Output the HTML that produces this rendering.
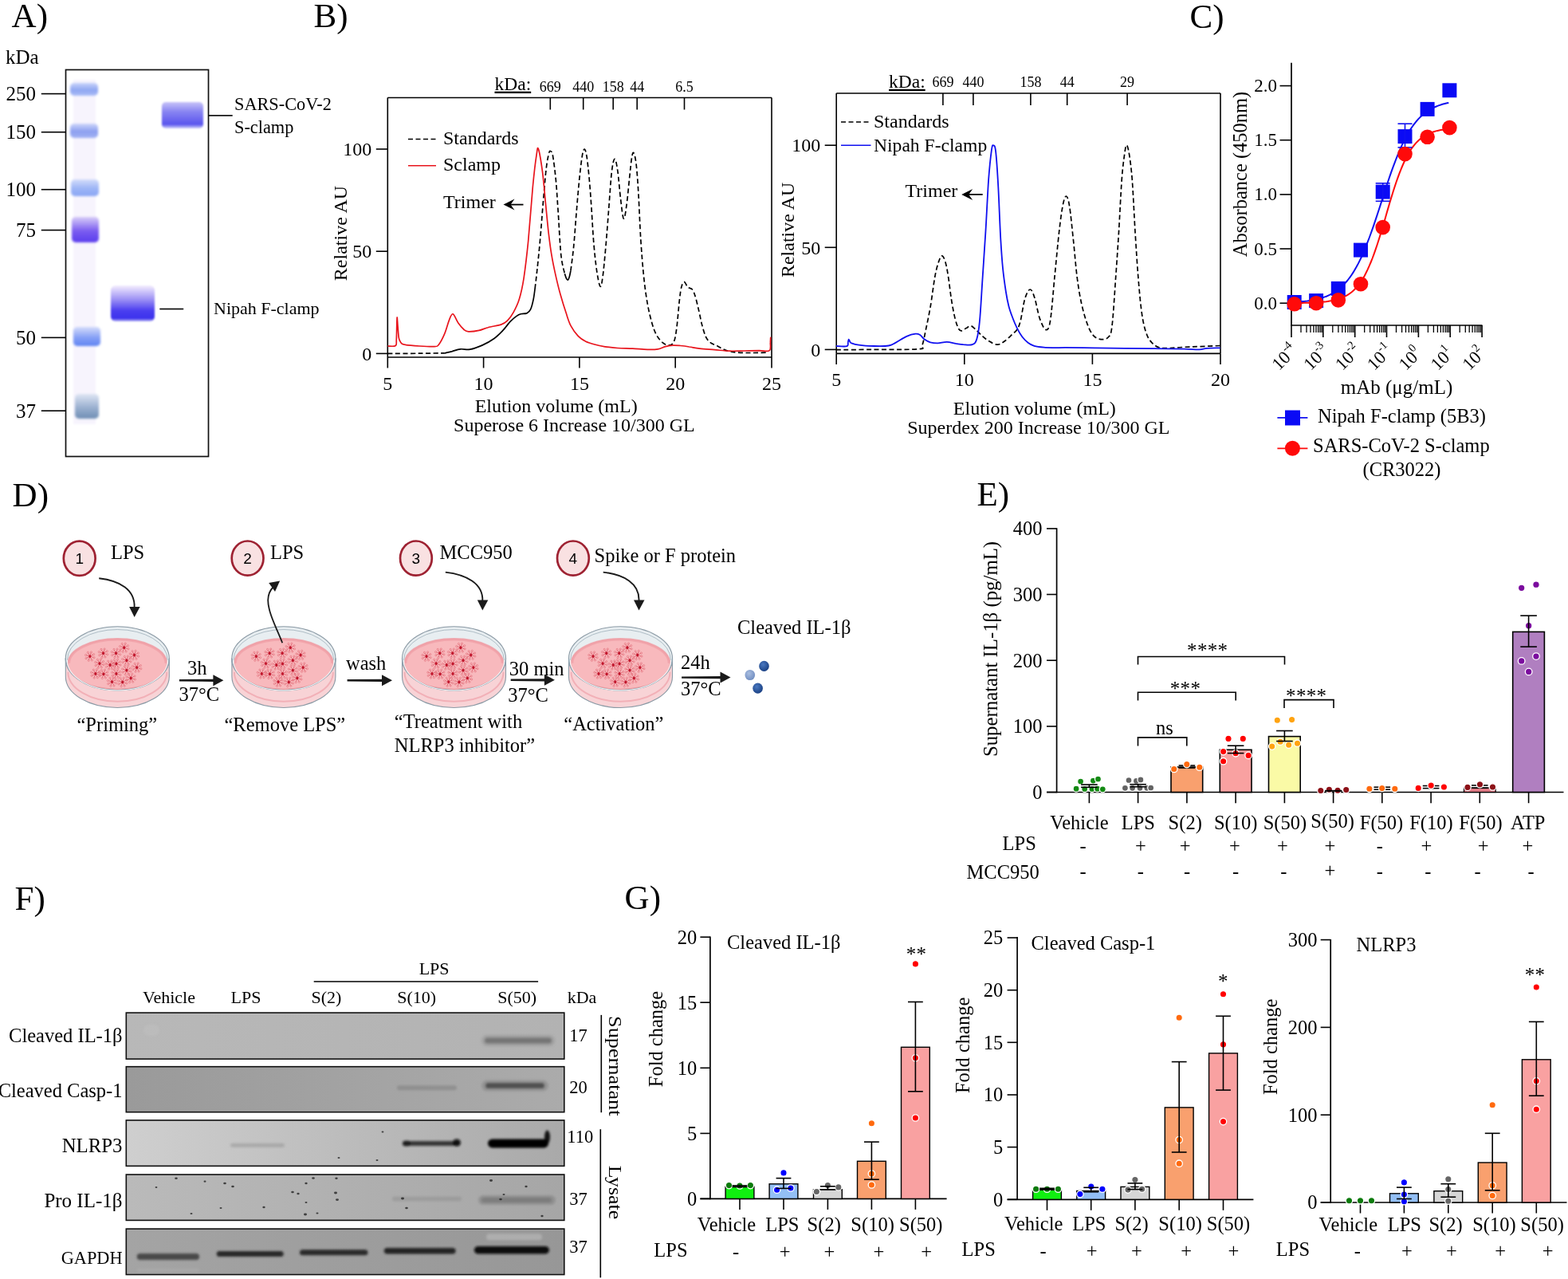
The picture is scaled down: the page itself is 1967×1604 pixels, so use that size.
<!DOCTYPE html>
<html><head><meta charset="utf-8"><title>Figure</title>
<style>html,body{margin:0;padding:0;background:#fff;} svg{display:block;}</style>
</head><body>
<svg width="1967" height="1604" viewBox="0 0 1967 1604">
<defs>
<filter id="blur1" x="-20%" y="-20%" width="140%" height="140%"><feGaussianBlur stdDeviation="1"/></filter>
<filter id="blur2" x="-20%" y="-20%" width="140%" height="140%"><feGaussianBlur stdDeviation="1.6"/></filter>
<filter id="blur3" x="-30%" y="-60%" width="160%" height="220%"><feGaussianBlur stdDeviation="2.5"/></filter>
<linearGradient id="gS" x1="0" y1="0" x2="0" y2="1">
<stop offset="0" stop-color="#c8c4f8"/><stop offset="0.35" stop-color="#8a86f2"/><stop offset="0.85" stop-color="#5a54ee"/><stop offset="1" stop-color="#cfd0fa"/></linearGradient>
<linearGradient id="gN" x1="0" y1="0" x2="0" y2="1">
<stop offset="0" stop-color="#f4eefe"/><stop offset="0.4" stop-color="#9a8ef4"/><stop offset="0.7" stop-color="#4a3ef0"/><stop offset="0.92" stop-color="#3c32ec"/><stop offset="1" stop-color="#b8b4f6"/></linearGradient>
</defs>
<rect x="0" y="0" width="1967" height="1604" fill="#fff" stroke="none" stroke-width="1" />
<text x="14.6" y="34" font-size="43" text-anchor="start" fill="#000" font-family="'Liberation Serif','Times New Roman',serif" >A)</text>
<text x="7" y="80" font-size="25" text-anchor="start" fill="#000" font-family="'Liberation Serif','Times New Roman',serif" >kDa</text>
<g filter="url(#blur1)">
<rect x="92" y="100" width="28" height="432" fill="#f4f0fc" stroke="none" stroke-width="1" opacity="0.7"/>
</g>
<g filter="url(#blur2)">
<linearGradient id="lb0" x1="0" y1="0" x2="0" y2="1"><stop offset="0" stop-color="#c9d4fa"/><stop offset="0.55" stop-color="#8fa6f2"/><stop offset="1" stop-color="#a9bcf6"/></linearGradient>
<rect x="88" y="104" width="35" height="16" fill="url(#lb0)" stroke="none" stroke-width="1" rx="5"/>
<linearGradient id="lb1" x1="0" y1="0" x2="0" y2="1"><stop offset="0" stop-color="#cdd6fa"/><stop offset="0.55" stop-color="#8c9ff0"/><stop offset="1" stop-color="#a2b2f4"/></linearGradient>
<rect x="88" y="155" width="35" height="18" fill="url(#lb1)" stroke="none" stroke-width="1" rx="5"/>
<linearGradient id="lb2" x1="0" y1="0" x2="0" y2="1"><stop offset="0" stop-color="#d2dcfa"/><stop offset="0.55" stop-color="#9cb4f6"/><stop offset="1" stop-color="#8aa6f4"/></linearGradient>
<rect x="89" y="225" width="35" height="21" fill="url(#lb2)" stroke="none" stroke-width="1" rx="5"/>
<linearGradient id="lb3" x1="0" y1="0" x2="0" y2="1"><stop offset="0" stop-color="#d8cdf8"/><stop offset="0.55" stop-color="#7a5cf0"/><stop offset="1" stop-color="#5a3cee"/></linearGradient>
<rect x="90" y="272" width="34" height="32" fill="url(#lb3)" stroke="none" stroke-width="1" rx="5"/>
<linearGradient id="lb4" x1="0" y1="0" x2="0" y2="1"><stop offset="0" stop-color="#d4dcfa"/><stop offset="0.55" stop-color="#86a0f6"/><stop offset="1" stop-color="#5f84f2"/></linearGradient>
<rect x="92" y="410" width="34" height="24" fill="url(#lb4)" stroke="none" stroke-width="1" rx="5"/>
<linearGradient id="lb5" x1="0" y1="0" x2="0" y2="1"><stop offset="0" stop-color="#dfe6f4"/><stop offset="0.55" stop-color="#9ab0d0"/><stop offset="1" stop-color="#6f8eb4"/></linearGradient>
<rect x="94" y="494" width="30" height="31" fill="url(#lb5)" stroke="none" stroke-width="1" rx="5"/>
</g>
<g filter="url(#blur1)">
<rect x="203" y="128" width="52" height="33" fill="url(#gS)" stroke="none" stroke-width="1" rx="5"/>
<rect x="139" y="358" width="55" height="45" fill="url(#gN)" stroke="none" stroke-width="1" rx="6"/>
</g>
<rect x="82.5" y="87.5" width="179" height="485" fill="none" stroke="#111" stroke-width="1.7" />
<line x1="51.8" y1="117.6" x2="82.5" y2="117.6" stroke="#000" stroke-width="1.6" />
<text x="45" y="125.9" font-size="25" text-anchor="end" fill="#000" font-family="'Liberation Serif','Times New Roman',serif" >250</text>
<line x1="51.8" y1="165.7" x2="82.5" y2="165.7" stroke="#000" stroke-width="1.6" />
<text x="45" y="174" font-size="25" text-anchor="end" fill="#000" font-family="'Liberation Serif','Times New Roman',serif" >150</text>
<line x1="51.8" y1="237.7" x2="82.5" y2="237.7" stroke="#000" stroke-width="1.6" />
<text x="45" y="246" font-size="25" text-anchor="end" fill="#000" font-family="'Liberation Serif','Times New Roman',serif" >100</text>
<line x1="51.8" y1="288.6" x2="82.5" y2="288.6" stroke="#000" stroke-width="1.6" />
<text x="45" y="296.9" font-size="25" text-anchor="end" fill="#000" font-family="'Liberation Serif','Times New Roman',serif" >75</text>
<line x1="51.8" y1="423.4" x2="82.5" y2="423.4" stroke="#000" stroke-width="1.6" />
<text x="45" y="431.7" font-size="25" text-anchor="end" fill="#000" font-family="'Liberation Serif','Times New Roman',serif" >50</text>
<line x1="51.8" y1="515.2" x2="82.5" y2="515.2" stroke="#000" stroke-width="1.6" />
<text x="45" y="523.5" font-size="25" text-anchor="end" fill="#000" font-family="'Liberation Serif','Times New Roman',serif" >37</text>
<line x1="261.5" y1="144.9" x2="291.7" y2="144.9" stroke="#000" stroke-width="1.6" />
<text x="294" y="138" font-size="22.3" text-anchor="start" fill="#000" font-family="'Liberation Serif','Times New Roman',serif" >SARS-CoV-2</text>
<text x="294" y="167.3" font-size="22.3" text-anchor="start" fill="#000" font-family="'Liberation Serif','Times New Roman',serif" >S-clamp</text>
<line x1="200.3" y1="387.5" x2="230.2" y2="387.5" stroke="#000" stroke-width="1.6" />
<text x="268" y="394.3" font-size="22" text-anchor="start" fill="#000" font-family="'Liberation Serif','Times New Roman',serif" >Nipah F-clamp</text>
<text x="393.6" y="34" font-size="43" text-anchor="start" fill="#000" font-family="'Liberation Serif','Times New Roman',serif" >B)</text>
<line x1="486.3" y1="122.5" x2="968" y2="122.5" stroke="#000" stroke-width="1.6" />
<line x1="486.3" y1="448" x2="968" y2="448" stroke="#000" stroke-width="1.6" />
<line x1="486.3" y1="122.5" x2="486.3" y2="448" stroke="#000" stroke-width="1.6" />
<line x1="968" y1="122.5" x2="968" y2="448" stroke="#000" stroke-width="1.6" />
<line x1="471.8" y1="443.4" x2="486.3" y2="443.4" stroke="#000" stroke-width="1.6" />
<text x="466.3" y="451.6" font-size="24" text-anchor="end" fill="#000" font-family="'Liberation Serif','Times New Roman',serif" >0</text>
<line x1="471.8" y1="315.2" x2="486.3" y2="315.2" stroke="#000" stroke-width="1.6" />
<text x="466.3" y="323.4" font-size="24" text-anchor="end" fill="#000" font-family="'Liberation Serif','Times New Roman',serif" >50</text>
<line x1="471.8" y1="187" x2="486.3" y2="187" stroke="#000" stroke-width="1.6" />
<text x="466.3" y="195.2" font-size="24" text-anchor="end" fill="#000" font-family="'Liberation Serif','Times New Roman',serif" >100</text>
<line x1="486.3" y1="448" x2="486.3" y2="461.5" stroke="#000" stroke-width="1.6" />
<text x="486.3" y="489" font-size="24" text-anchor="middle" fill="#000" font-family="'Liberation Serif','Times New Roman',serif" >5</text>
<line x1="606.6" y1="448" x2="606.6" y2="461.5" stroke="#000" stroke-width="1.6" />
<text x="606.6" y="489" font-size="24" text-anchor="middle" fill="#000" font-family="'Liberation Serif','Times New Roman',serif" >10</text>
<line x1="726.9" y1="448" x2="726.9" y2="461.5" stroke="#000" stroke-width="1.6" />
<text x="726.9" y="489" font-size="24" text-anchor="middle" fill="#000" font-family="'Liberation Serif','Times New Roman',serif" >15</text>
<line x1="847.2" y1="448" x2="847.2" y2="461.5" stroke="#000" stroke-width="1.6" />
<text x="847.2" y="489" font-size="24" text-anchor="middle" fill="#000" font-family="'Liberation Serif','Times New Roman',serif" >20</text>
<line x1="968" y1="448" x2="968" y2="461.5" stroke="#000" stroke-width="1.6" />
<text x="968" y="489" font-size="24" text-anchor="middle" fill="#000" font-family="'Liberation Serif','Times New Roman',serif" >25</text>
<line x1="690.3" y1="122.5" x2="690.3" y2="137.5" stroke="#000" stroke-width="1.6" />
<text x="690.3" y="115.4" font-size="18" text-anchor="middle" fill="#000" font-family="'Liberation Serif','Times New Roman',serif" >669</text>
<line x1="731.7" y1="122.5" x2="731.7" y2="137.5" stroke="#000" stroke-width="1.6" />
<text x="731.7" y="115.4" font-size="18" text-anchor="middle" fill="#000" font-family="'Liberation Serif','Times New Roman',serif" >440</text>
<line x1="769.2" y1="122.5" x2="769.2" y2="137.5" stroke="#000" stroke-width="1.6" />
<text x="769.2" y="115.4" font-size="18" text-anchor="middle" fill="#000" font-family="'Liberation Serif','Times New Roman',serif" >158</text>
<line x1="799.2" y1="122.5" x2="799.2" y2="137.5" stroke="#000" stroke-width="1.6" />
<text x="799.2" y="115.4" font-size="18" text-anchor="middle" fill="#000" font-family="'Liberation Serif','Times New Roman',serif" >44</text>
<line x1="858.5" y1="122.5" x2="858.5" y2="137.5" stroke="#000" stroke-width="1.6" />
<text x="858.5" y="115.4" font-size="18" text-anchor="middle" fill="#000" font-family="'Liberation Serif','Times New Roman',serif" >6.5</text>
<text x="620.5" y="112.7" font-size="23.5" text-anchor="start" fill="#000" font-family="'Liberation Serif','Times New Roman',serif" text-decoration="underline">kDa:</text>
<text transform="translate(434.5,292.5) rotate(-90)" font-size="24" text-anchor="middle" font-family="'Liberation Serif','Times New Roman',serif">Relative AU</text>
<text x="697.7" y="516.7" font-size="24" text-anchor="middle" fill="#000" font-family="'Liberation Serif','Times New Roman',serif" >Elution volume (mL)</text>
<text x="720.4" y="541.2" font-size="24" text-anchor="middle" fill="#000" font-family="'Liberation Serif','Times New Roman',serif" >Superose 6 Increase 10/300 GL</text>
<path d="M486.5,443.4 C493.1,443.4 514.2,443.3 526.1,443.2 C538,443.1 552.6,442.9 557.9,442.8" stroke="#000" stroke-width="1.7" fill="none" stroke-dasharray="6,3.5"/>
<path d="M557.9,442.8 C559.5,442.5 564,441.4 567.3,440.6 C570.5,439.7 573.8,438.2 577.6,437.8 C581.3,437.4 585.2,438.9 589.7,438.2 C594.2,437.4 599.7,435.3 604.7,433.1 C609.7,430.9 615.3,427.8 619.6,424.7 C624,421.6 627.4,418 630.9,414.4 C634.3,410.8 637.4,406.1 640.2,403.2 C643,400.2 645.5,398.2 647.7,396.6 C649.9,395.1 651.1,394.4 653.3,393.8 C655.5,393.2 658.8,393.8 660.8,392.9 C662.8,391.9 664.1,391.2 665.5,388.2 C666.9,385.2 668.3,379.5 669.2,375.1 C670.1,370.7 670.8,364.2 671.1,362" stroke="#000" stroke-width="1.7" fill="none" />
<path d="M671.1,362 C671.6,358 672.8,348 673.9,337.7 C675,327.4 676.4,314.3 677.6,300.3 C678.9,286.3 680.1,268.2 681.4,253.5 C682.6,238.9 683.9,222.5 685.1,212.4 C686.3,202.2 687.5,196.5 688.5,192.7 C689.4,188.9 689.9,189.1 690.7,189.6 C691.6,190 692.4,189.6 693.5,195.5 C694.6,201.5 696.2,214.2 697.3,225.5 C698.4,236.7 698.9,247.3 700,262.9 C701.1,278.5 702.3,305.6 703.7,319 C705.1,332.4 707.6,339.3 708.4,343.3" stroke="#000" stroke-width="1.7" fill="none" stroke-dasharray="6,3.5"/>
<path d="M708.4,343.3 C708.7,344.2 709.7,347.6 710.3,348.9 C710.9,350.2 711.5,351.3 712.2,351.2 C712.8,351 713.4,349.9 714,348 C714.7,346.1 715.6,341 715.9,339.6" stroke="#000" stroke-width="1.7" fill="none" />
<path d="M715.9,339.6 C716.5,334.6 718.4,322.4 719.6,309.6 C720.9,296.9 722.1,277.5 723.4,262.9 C724.6,248.2 725.9,233.1 727.1,221.7 C728.3,210.3 729.5,200.4 730.5,194.6 C731.5,188.8 732.4,186.8 733.3,187.1 C734.2,187.4 735.1,190.1 736.1,196.5 C737.1,202.9 738.3,214.4 739.3,225.5 C740.3,236.5 741.2,249.5 742.1,262.9 C743,276.3 743.8,293.1 744.9,305.9 C746,318.7 747.3,330.7 748.6,339.6 C750,348.5 751.7,358 752.9,359.2 C754.2,360.5 755,355.3 756.1,347.1 C757.3,338.8 758.6,323.7 759.9,309.6 C761.1,295.6 762.4,278.5 763.6,262.9 C764.8,247.3 766.1,226.7 767.3,216.1 C768.6,205.5 769.8,199.6 771.1,199.3 C772.3,199 773.6,205.8 774.8,214.2 C776.1,222.7 777.3,239.8 778.6,249.8 C779.8,259.8 781.1,272.9 782.3,274.1 C783.6,275.4 784.8,266 786,257.3 C787.3,248.5 788.7,231.7 789.8,221.7 C790.9,211.8 791.7,202.4 792.6,197.4 C793.5,192.4 794.1,190.2 795,191.8 C796,193.4 797.2,198 798.2,206.8 C799.2,215.5 800.1,228.6 801,244.2 C801.9,259.8 802.7,283.1 803.8,300.3 C804.9,317.4 806.2,333.7 807.6,347.1 C809,360.5 810.5,371.1 812.2,380.7 C813.9,390.4 816,398.5 817.8,405 C819.7,411.6 821.3,416 823.5,420 C825.6,424.1 828.4,427.2 830.9,429.4 C833.4,431.5 836.1,433.1 838.4,433.1 C840.8,433.1 843.3,432.8 845,429.4 C846.7,425.9 847.5,421.6 848.7,412.5 C850,403.5 851.4,384.2 852.5,375.1 C853.5,366.1 854.2,361.9 855.3,358.3 C856.3,354.7 857.4,353.3 858.6,353.6 C859.9,353.9 861.1,358.6 862.7,360.1 C864.4,361.7 866.8,361.1 868.4,363 C869.9,364.8 870.7,366.9 872.1,371.4 C873.5,375.9 875.4,384.2 876.8,390.1 C878.2,396 879.1,401.6 880.5,406.9 C881.9,412.2 883.5,418.1 885.2,421.9 C886.9,425.6 888.3,427.3 890.8,429.4 C893.3,431.4 896.7,432.3 900.1,434 C903.6,435.8 907.3,438.3 911.4,439.6 C915.4,441 919.2,441.6 924.5,442.1 C929.8,442.5 936.6,442.5 943.2,442.5 C949.7,442.5 960.3,442.1 963.7,442.1" stroke="#000" stroke-width="1.7" fill="none" stroke-dasharray="6,3.5"/>
<path d="M486.5,434 C488.1,433.9 494.4,434.9 496.2,433.5 C498,432.1 497,431.4 497.3,425.6 C497.6,419.8 497.8,401.3 498.1,398.5 C498.3,395.7 498.6,404.6 499,408.8 C499.4,413 499.7,420.3 500.3,423.7 C500.9,427.2 501.6,428 502.7,429.4 C503.9,430.8 503.5,431.4 507.4,432.2 C511.3,432.9 519.9,433.6 526.1,434 C532.4,434.4 540.8,434.9 544.8,434.6 C548.9,434.3 548.3,434.9 550.4,432.2 C552.6,429.4 555.7,423.3 557.9,418.1 C560.1,413 561.8,405.4 563.5,401.3 C565.2,397.2 566.3,393.2 568.2,393.8 C570.1,394.4 572.4,401.8 574.8,405 C577.1,408.3 580.1,411.7 582.2,413.5 C584.4,415.3 584.7,415.7 587.8,415.9 C591,416 596.9,415.3 600.9,414.4 C605,413.5 607.5,411.9 612.2,410.7 C616.8,409.4 624.9,408.3 629,406.9 C633.1,405.5 634,404.7 636.5,402.2 C639,399.7 641.5,396.5 644,391.9 C646.5,387.4 649.3,382.3 651.4,375.1 C653.6,367.9 655.2,361.1 657.1,348.9 C658.9,336.8 660.8,321.2 662.7,302.2 C664.5,283.1 666.6,252.7 668.3,234.8 C670,216.9 671.7,202.6 673,194.6 C674.2,186.7 674.2,183.5 675.5,187.1 C676.8,190.7 679.1,205 680.6,216.1 C682,227.1 683.1,241 684.3,253.5 C685.5,265.9 686.8,279.9 688,290.8 C689.3,301.7 690.2,309.5 691.8,318.9 C693.3,328.2 695.5,338.5 697.4,346.9 C699.3,355.3 700.8,361.6 703,369.3 C705.2,377.1 708.3,387.1 710.5,393.6 C712.6,400.2 713.6,403.9 716.1,408.6 C718.6,413.3 722.3,418.4 725.4,421.7 C728.5,425 731.3,426.5 734.8,428.2 C738.2,429.9 741.9,430.9 746,432 C750,433.1 754.3,434 759.1,434.8 C763.9,435.5 769.1,436.1 774.8,436.5 C780.6,436.9 787.3,436.9 793.5,437.2 C799.8,437.5 806.9,438.2 812.2,438.3 C817.5,438.4 821.6,438.4 825.3,437.8 C829.1,437.2 831.6,435.4 834.7,434.6 C837.8,433.8 840.9,433.3 844,433.1 C847.2,432.9 850,433.2 853.4,433.5 C856.8,433.8 860.6,434.3 864.6,435 C868.7,435.6 872.4,436.6 877.7,437.2 C883,437.8 890.2,438.2 896.4,438.7 C902.6,439.2 908.9,440 915.1,440.2 C921.3,440.4 927.6,440.1 933.8,440 C940.1,439.9 947.3,439.7 952.5,439.6 C957.8,439.6 962.9,441.4 965.2,439.6 C967.6,437.9 966.1,432 966.4,429.4 C966.6,426.7 966.6,424.7 966.7,423.7 C966.9,422.8 967.4,423.7 967.5,423.7" stroke="#e8141c" stroke-width="1.7" fill="none" />
<line x1="512" y1="174.6" x2="547" y2="174.6" stroke="#000" stroke-width="1.5" stroke-dasharray="6,3.5"/>
<text x="556" y="180.5" font-size="24" text-anchor="start" fill="#000" font-family="'Liberation Serif','Times New Roman',serif" >Standards</text>
<line x1="512" y1="207.7" x2="547" y2="207.7" stroke="#e8141c" stroke-width="1.5" />
<text x="556" y="213.5" font-size="24" text-anchor="start" fill="#000" font-family="'Liberation Serif','Times New Roman',serif" >Sclamp</text>
<text x="556" y="260.5" font-size="24" text-anchor="start" fill="#000" font-family="'Liberation Serif','Times New Roman',serif" >Trimer</text>
<line x1="637.5" y1="256.6" x2="656.5" y2="256.6" stroke="#000" stroke-width="1.8" />
<path d="M631.5,256.6 L645.5,249.6 L640.5,256.6 L645.5,263.6 Z" fill="#000"/>
<line x1="1049.2" y1="117" x2="1531" y2="117" stroke="#000" stroke-width="1.6" />
<line x1="1049.2" y1="443.4" x2="1531" y2="443.4" stroke="#000" stroke-width="1.6" />
<line x1="1049.2" y1="117" x2="1049.2" y2="443.4" stroke="#000" stroke-width="1.6" />
<line x1="1531" y1="117" x2="1531" y2="443.4" stroke="#000" stroke-width="1.6" />
<line x1="1034.7" y1="438.4" x2="1049.2" y2="438.4" stroke="#000" stroke-width="1.6" />
<text x="1029.2" y="446.6" font-size="24" text-anchor="end" fill="#000" font-family="'Liberation Serif','Times New Roman',serif" >0</text>
<line x1="1034.7" y1="310.3" x2="1049.2" y2="310.3" stroke="#000" stroke-width="1.6" />
<text x="1029.2" y="318.5" font-size="24" text-anchor="end" fill="#000" font-family="'Liberation Serif','Times New Roman',serif" >50</text>
<line x1="1034.7" y1="182.2" x2="1049.2" y2="182.2" stroke="#000" stroke-width="1.6" />
<text x="1029.2" y="190.4" font-size="24" text-anchor="end" fill="#000" font-family="'Liberation Serif','Times New Roman',serif" >100</text>
<line x1="1049.2" y1="443.4" x2="1049.2" y2="456.9" stroke="#000" stroke-width="1.6" />
<text x="1049.2" y="484.4" font-size="24" text-anchor="middle" fill="#000" font-family="'Liberation Serif','Times New Roman',serif" >5</text>
<line x1="1209.8" y1="443.4" x2="1209.8" y2="456.9" stroke="#000" stroke-width="1.6" />
<text x="1209.8" y="484.4" font-size="24" text-anchor="middle" fill="#000" font-family="'Liberation Serif','Times New Roman',serif" >10</text>
<line x1="1370.4" y1="443.4" x2="1370.4" y2="456.9" stroke="#000" stroke-width="1.6" />
<text x="1370.4" y="484.4" font-size="24" text-anchor="middle" fill="#000" font-family="'Liberation Serif','Times New Roman',serif" >15</text>
<line x1="1531" y1="443.4" x2="1531" y2="456.9" stroke="#000" stroke-width="1.6" />
<text x="1531" y="484.4" font-size="24" text-anchor="middle" fill="#000" font-family="'Liberation Serif','Times New Roman',serif" >20</text>
<line x1="1182.9" y1="117" x2="1182.9" y2="132" stroke="#000" stroke-width="1.6" />
<text x="1182.9" y="109.2" font-size="18" text-anchor="middle" fill="#000" font-family="'Liberation Serif','Times New Roman',serif" >669</text>
<line x1="1220.9" y1="117" x2="1220.9" y2="132" stroke="#000" stroke-width="1.6" />
<text x="1220.9" y="109.2" font-size="18" text-anchor="middle" fill="#000" font-family="'Liberation Serif','Times New Roman',serif" >440</text>
<line x1="1292.9" y1="117" x2="1292.9" y2="132" stroke="#000" stroke-width="1.6" />
<text x="1292.9" y="109.2" font-size="18" text-anchor="middle" fill="#000" font-family="'Liberation Serif','Times New Roman',serif" >158</text>
<line x1="1338.7" y1="117" x2="1338.7" y2="132" stroke="#000" stroke-width="1.6" />
<text x="1338.7" y="109.2" font-size="18" text-anchor="middle" fill="#000" font-family="'Liberation Serif','Times New Roman',serif" >44</text>
<line x1="1414.1" y1="117" x2="1414.1" y2="132" stroke="#000" stroke-width="1.6" />
<text x="1414.1" y="109.2" font-size="18" text-anchor="middle" fill="#000" font-family="'Liberation Serif','Times New Roman',serif" >29</text>
<text x="1115" y="109.8" font-size="23.5" text-anchor="start" fill="#000" font-family="'Liberation Serif','Times New Roman',serif" text-decoration="underline">kDa:</text>
<text transform="translate(995.5,288.4) rotate(-90)" font-size="24" text-anchor="middle" font-family="'Liberation Serif','Times New Roman',serif">Relative AU</text>
<text x="1297.8" y="519.7" font-size="24" text-anchor="middle" fill="#000" font-family="'Liberation Serif','Times New Roman',serif" >Elution volume (mL)</text>
<text x="1302.8" y="544.2" font-size="24" text-anchor="middle" fill="#000" font-family="'Liberation Serif','Times New Roman',serif" >Superdex 200 Increase 10/300 GL</text>
<path d="M1049,438.7 C1056.8,438.7 1078.9,438.5 1096.1,438.3 C1113.3,438.2 1142.1,438.7 1152.2,437.8 C1162.4,436.9 1155.4,437.3 1156.9,433.1 C1158.5,428.9 1159.9,420.6 1161.6,412.5 C1163.3,404.4 1165.3,395.4 1167.2,384.5 C1169.1,373.6 1171.1,356.4 1172.8,347.1 C1174.5,337.7 1176,332.7 1177.5,328.4 C1179,324 1180.2,320.9 1181.6,320.9 C1183,320.9 1184.6,324 1185.9,328.4 C1187.2,332.7 1188.4,339.3 1189.6,347.1 C1190.9,354.8 1192,366.4 1193.4,375.1 C1194.8,383.8 1196.5,393.2 1198.1,399.4 C1199.6,405.7 1201.3,410 1202.7,412.5 C1204.1,415.1 1204.9,414.9 1206.5,414.8 C1208,414.6 1210.2,412.6 1212.1,411.6 C1214,410.6 1215.8,408.6 1217.7,408.8 C1219.6,408.9 1221.1,410.7 1223.3,412.5 C1225.5,414.4 1228,417.5 1230.8,420 C1233.6,422.5 1236.7,425.5 1240.1,427.5 C1243.6,429.5 1247.9,432.2 1251.4,432.2 C1254.8,432.2 1257.6,429.7 1260.7,427.5 C1263.8,425.3 1267.6,421.4 1270.1,419.1 C1272.6,416.7 1274,416.1 1275.7,413.5 C1277.3,410.8 1278.3,409.6 1280,403.2 C1281.7,396.8 1283.6,381.8 1285.6,375.1 C1287.6,368.4 1290.1,363.3 1292.2,363 C1294.2,362.6 1295.7,367.2 1297.8,373.2 C1299.8,379.3 1302,392.7 1304.3,399.4 C1306.7,406.1 1309.6,412.8 1311.8,413.5 C1314,414.1 1315.5,414.2 1317.4,403.2 C1319.3,392.1 1321.2,365.8 1323,347.1 C1324.9,328.4 1326.9,305.9 1328.6,290.9 C1330.3,276 1331.8,264.8 1333.3,257.3 C1334.8,249.8 1336.2,245.7 1337.6,246 C1339,246.4 1340.3,250.1 1341.7,259.1 C1343.2,268.2 1344.8,285.6 1346.4,300.3 C1348,314.9 1349.4,333.7 1351.1,347.1 C1352.8,360.5 1354.5,370.7 1356.7,380.7 C1358.9,390.7 1361.7,400.2 1364.2,406.9 C1366.7,413.6 1368.9,417.8 1371.7,420.9 C1374.5,424.1 1377.9,425.3 1381,425.6 C1384.1,425.9 1388,425.6 1390.4,422.8 C1392.7,420 1393.5,421.4 1395,408.8 C1396.6,396.2 1398.3,366.7 1399.7,347.1 C1401.1,327.4 1402.2,311.2 1403.5,290.9 C1404.7,270.7 1406,242 1407.2,225.5 C1408.4,208.9 1409.9,199 1410.9,191.8 C1412,184.6 1412.4,181.8 1413.4,182.1 C1414.3,182.4 1415.4,186.4 1416.6,193.7 C1417.7,200.9 1419,209.3 1420.3,225.5 C1421.5,241.7 1422.8,270.7 1424,290.9 C1425.3,311.2 1426.4,329.9 1427.8,347.1 C1429.2,364.2 1430.7,382 1432.5,393.8 C1434.2,405.7 1436,412.2 1438.1,418.1 C1440.1,424.1 1442,426.4 1444.6,429.4 C1447.3,432.3 1450.2,434.7 1454,435.9 C1457.7,437.1 1461.8,436.6 1467.1,436.5 C1472.4,436.4 1479.5,435.7 1485.8,435.3 C1492,435 1497,434.9 1504.5,434.6 C1511.9,434.3 1526.3,433.7 1530.7,433.5" stroke="#000" stroke-width="1.7" fill="none" stroke-dasharray="6,3.5"/>
<path d="M1049,434 C1051.2,434.1 1060,435 1062.4,434.2 C1064.9,433.4 1063.4,430.8 1063.8,429.4 C1064.1,427.9 1064.3,425.8 1064.7,425.6 C1065.1,425.5 1065.6,427.6 1066.2,428.4 C1066.7,429.2 1066.2,429.6 1068.1,430.3 C1069.9,431 1072.7,432.1 1077.4,432.7 C1082.1,433.4 1089.9,433.9 1096.1,434 C1102.4,434.2 1110.1,434.3 1114.8,433.5 C1119.5,432.7 1120.4,431.3 1124.2,429.4 C1127.9,427.4 1133.2,423.7 1137.3,421.9 C1141.3,420.1 1145.7,419 1148.5,418.7 C1151.3,418.4 1152.2,418.9 1154.1,420 C1156,421.2 1157.5,424.1 1159.7,425.6 C1161.9,427.2 1164.4,428.6 1167.2,429.4 C1170,430.1 1173.1,430.4 1176.6,430.3 C1180,430.2 1184,428.7 1187.8,428.8 C1191.5,428.9 1195.6,430.3 1199,430.9 C1202.4,431.4 1204.9,431.9 1208.4,432.2 C1211.8,432.4 1216.8,433.3 1219.6,432.2 C1222.4,431.1 1223.6,430.5 1225.2,425.6 C1226.7,420.8 1227.7,416.3 1228.9,403.2 C1230.2,390.1 1231.4,365.8 1232.7,347.1 C1233.9,328.4 1235.2,311.2 1236.4,290.9 C1237.7,270.7 1238.9,242.6 1240.1,225.5 C1241.4,208.3 1242.9,195.2 1243.9,188.1 C1244.9,180.9 1245.4,182.1 1246.3,182.4 C1247.2,182.8 1248.1,181.2 1249.1,189.9 C1250.1,198.7 1251.3,216.5 1252.3,234.8 C1253.3,253.2 1254.3,282.9 1255.3,300 C1256.3,317.1 1257,326.5 1258.1,337.4 C1259.2,348.3 1260.6,357.7 1261.8,365.5 C1263,373.3 1264.1,378.8 1265.5,384.2 C1266.9,389.6 1268.5,393.7 1270.2,398.2 C1271.9,402.7 1273.8,407.2 1275.8,411.3 C1277.8,415.4 1280.1,419.4 1282.4,422.5 C1284.8,425.6 1287.4,428.1 1289.9,430 C1292.4,431.9 1294.1,432.9 1297.4,433.8 C1300.7,434.7 1305.2,435.2 1309.5,435.6 C1313.8,436 1319.1,436 1323.5,436.1 C1327.9,436.2 1327.8,435.9 1336.1,435.9 C1344.5,435.9 1361.1,436.1 1373.5,436.3 C1386,436.4 1398.5,436.7 1410.9,436.8 C1423.4,437 1435.9,437.1 1448.4,437.2 C1460.8,437.3 1476.4,437.4 1485.8,437.6 C1495.1,437.8 1499.8,438.5 1504.5,438.3 C1509.1,438.2 1509.5,437.2 1513.8,436.8 C1518.2,436.5 1527.8,436.4 1530.7,436.3" stroke="#1010f0" stroke-width="1.8" fill="none" />
<line x1="1055" y1="152.9" x2="1092.5" y2="152.9" stroke="#000" stroke-width="1.5" stroke-dasharray="6,3.5"/>
<text x="1096" y="160" font-size="24" text-anchor="start" fill="#000" font-family="'Liberation Serif','Times New Roman',serif" >Standards</text>
<line x1="1055" y1="182.2" x2="1092.5" y2="182.2" stroke="#1010f0" stroke-width="1.5" />
<text x="1096" y="189.5" font-size="23.6" text-anchor="start" fill="#000" font-family="'Liberation Serif','Times New Roman',serif" >Nipah F-clamp</text>
<text x="1135.5" y="246.6" font-size="24" text-anchor="start" fill="#000" font-family="'Liberation Serif','Times New Roman',serif" >Trimer</text>
<line x1="1212.2" y1="243.9" x2="1232.7" y2="243.9" stroke="#000" stroke-width="1.8" />
<path d="M1206.2,243.9 L1220.2,236.9 L1215.2,243.9 L1220.2,250.9 Z" fill="#000"/>
<text x="1492.6" y="35" font-size="43" text-anchor="start" fill="#000" font-family="'Liberation Serif','Times New Roman',serif" >C)</text>
<line x1="1620" y1="78.7" x2="1620" y2="408.8" stroke="#000" stroke-width="1.7" />
<line x1="1619.2" y1="408" x2="1859.5" y2="408" stroke="#000" stroke-width="1.7" />
<line x1="1605.5" y1="380.2" x2="1620" y2="380.2" stroke="#000" stroke-width="1.6" />
<text x="1602" y="387.7" font-size="23" text-anchor="end" fill="#000" font-family="'Liberation Serif','Times New Roman',serif" >0.0</text>
<line x1="1605.5" y1="312" x2="1620" y2="312" stroke="#000" stroke-width="1.6" />
<text x="1602" y="319.5" font-size="23" text-anchor="end" fill="#000" font-family="'Liberation Serif','Times New Roman',serif" >0.5</text>
<line x1="1605.5" y1="243.9" x2="1620" y2="243.9" stroke="#000" stroke-width="1.6" />
<text x="1602" y="251.4" font-size="23" text-anchor="end" fill="#000" font-family="'Liberation Serif','Times New Roman',serif" >1.0</text>
<line x1="1605.5" y1="175.7" x2="1620" y2="175.7" stroke="#000" stroke-width="1.6" />
<text x="1602" y="183.2" font-size="23" text-anchor="end" fill="#000" font-family="'Liberation Serif','Times New Roman',serif" >1.5</text>
<line x1="1605.5" y1="107.6" x2="1620" y2="107.6" stroke="#000" stroke-width="1.6" />
<text x="1602" y="115.1" font-size="23" text-anchor="end" fill="#000" font-family="'Liberation Serif','Times New Roman',serif" >2.0</text>
<line x1="1620" y1="408" x2="1620" y2="423" stroke="#000" stroke-width="1.6" />
<line x1="1632" y1="408" x2="1632" y2="417" stroke="#000" stroke-width="1.3" />
<line x1="1639" y1="408" x2="1639" y2="417" stroke="#000" stroke-width="1.3" />
<line x1="1644" y1="408" x2="1644" y2="417" stroke="#000" stroke-width="1.3" />
<line x1="1647.9" y1="408" x2="1647.9" y2="417" stroke="#000" stroke-width="1.3" />
<line x1="1651" y1="408" x2="1651" y2="417" stroke="#000" stroke-width="1.3" />
<line x1="1653.7" y1="408" x2="1653.7" y2="417" stroke="#000" stroke-width="1.3" />
<line x1="1656" y1="408" x2="1656" y2="417" stroke="#000" stroke-width="1.3" />
<line x1="1658" y1="408" x2="1658" y2="417" stroke="#000" stroke-width="1.3" />
<text transform="translate(1604.4,465.5) rotate(-45)" font-size="22.5" font-family="'Liberation Serif','Times New Roman',serif">10<tspan font-size="14.5" dy="-10.5">-4</tspan></text>
<line x1="1659.8" y1="408" x2="1659.8" y2="423" stroke="#000" stroke-width="1.6" />
<line x1="1671.8" y1="408" x2="1671.8" y2="417" stroke="#000" stroke-width="1.3" />
<line x1="1678.9" y1="408" x2="1678.9" y2="417" stroke="#000" stroke-width="1.3" />
<line x1="1683.8" y1="408" x2="1683.8" y2="417" stroke="#000" stroke-width="1.3" />
<line x1="1687.7" y1="408" x2="1687.7" y2="417" stroke="#000" stroke-width="1.3" />
<line x1="1690.9" y1="408" x2="1690.9" y2="417" stroke="#000" stroke-width="1.3" />
<line x1="1693.5" y1="408" x2="1693.5" y2="417" stroke="#000" stroke-width="1.3" />
<line x1="1695.8" y1="408" x2="1695.8" y2="417" stroke="#000" stroke-width="1.3" />
<line x1="1697.9" y1="408" x2="1697.9" y2="417" stroke="#000" stroke-width="1.3" />
<text transform="translate(1644.2,465.5) rotate(-45)" font-size="22.5" font-family="'Liberation Serif','Times New Roman',serif">10<tspan font-size="14.5" dy="-10.5">-3</tspan></text>
<line x1="1699.7" y1="408" x2="1699.7" y2="423" stroke="#000" stroke-width="1.6" />
<line x1="1711.7" y1="408" x2="1711.7" y2="417" stroke="#000" stroke-width="1.3" />
<line x1="1718.7" y1="408" x2="1718.7" y2="417" stroke="#000" stroke-width="1.3" />
<line x1="1723.7" y1="408" x2="1723.7" y2="417" stroke="#000" stroke-width="1.3" />
<line x1="1727.6" y1="408" x2="1727.6" y2="417" stroke="#000" stroke-width="1.3" />
<line x1="1730.7" y1="408" x2="1730.7" y2="417" stroke="#000" stroke-width="1.3" />
<line x1="1733.4" y1="408" x2="1733.4" y2="417" stroke="#000" stroke-width="1.3" />
<line x1="1735.7" y1="408" x2="1735.7" y2="417" stroke="#000" stroke-width="1.3" />
<line x1="1737.7" y1="408" x2="1737.7" y2="417" stroke="#000" stroke-width="1.3" />
<text transform="translate(1684.1,465.5) rotate(-45)" font-size="22.5" font-family="'Liberation Serif','Times New Roman',serif">10<tspan font-size="14.5" dy="-10.5">-2</tspan></text>
<line x1="1739.5" y1="408" x2="1739.5" y2="423" stroke="#000" stroke-width="1.6" />
<line x1="1751.5" y1="408" x2="1751.5" y2="417" stroke="#000" stroke-width="1.3" />
<line x1="1758.6" y1="408" x2="1758.6" y2="417" stroke="#000" stroke-width="1.3" />
<line x1="1763.5" y1="408" x2="1763.5" y2="417" stroke="#000" stroke-width="1.3" />
<line x1="1767.4" y1="408" x2="1767.4" y2="417" stroke="#000" stroke-width="1.3" />
<line x1="1770.6" y1="408" x2="1770.6" y2="417" stroke="#000" stroke-width="1.3" />
<line x1="1773.2" y1="408" x2="1773.2" y2="417" stroke="#000" stroke-width="1.3" />
<line x1="1775.5" y1="408" x2="1775.5" y2="417" stroke="#000" stroke-width="1.3" />
<line x1="1777.6" y1="408" x2="1777.6" y2="417" stroke="#000" stroke-width="1.3" />
<text transform="translate(1724,465.5) rotate(-45)" font-size="22.5" font-family="'Liberation Serif','Times New Roman',serif">10<tspan font-size="14.5" dy="-10.5">-1</tspan></text>
<line x1="1779.4" y1="408" x2="1779.4" y2="423" stroke="#000" stroke-width="1.6" />
<line x1="1791.4" y1="408" x2="1791.4" y2="417" stroke="#000" stroke-width="1.3" />
<line x1="1798.4" y1="408" x2="1798.4" y2="417" stroke="#000" stroke-width="1.3" />
<line x1="1803.4" y1="408" x2="1803.4" y2="417" stroke="#000" stroke-width="1.3" />
<line x1="1807.3" y1="408" x2="1807.3" y2="417" stroke="#000" stroke-width="1.3" />
<line x1="1810.4" y1="408" x2="1810.4" y2="417" stroke="#000" stroke-width="1.3" />
<line x1="1813.1" y1="408" x2="1813.1" y2="417" stroke="#000" stroke-width="1.3" />
<line x1="1815.4" y1="408" x2="1815.4" y2="417" stroke="#000" stroke-width="1.3" />
<line x1="1817.4" y1="408" x2="1817.4" y2="417" stroke="#000" stroke-width="1.3" />
<text transform="translate(1763.8,465.5) rotate(-45)" font-size="22.5" font-family="'Liberation Serif','Times New Roman',serif">10<tspan font-size="14.5" dy="-10.5">0</tspan></text>
<line x1="1819.2" y1="408" x2="1819.2" y2="423" stroke="#000" stroke-width="1.6" />
<line x1="1831.2" y1="408" x2="1831.2" y2="417" stroke="#000" stroke-width="1.3" />
<line x1="1838.3" y1="408" x2="1838.3" y2="417" stroke="#000" stroke-width="1.3" />
<line x1="1843.2" y1="408" x2="1843.2" y2="417" stroke="#000" stroke-width="1.3" />
<line x1="1847.1" y1="408" x2="1847.1" y2="417" stroke="#000" stroke-width="1.3" />
<line x1="1850.3" y1="408" x2="1850.3" y2="417" stroke="#000" stroke-width="1.3" />
<line x1="1852.9" y1="408" x2="1852.9" y2="417" stroke="#000" stroke-width="1.3" />
<line x1="1855.2" y1="408" x2="1855.2" y2="417" stroke="#000" stroke-width="1.3" />
<line x1="1857.3" y1="408" x2="1857.3" y2="417" stroke="#000" stroke-width="1.3" />
<text transform="translate(1803.7,465.5) rotate(-45)" font-size="22.5" font-family="'Liberation Serif','Times New Roman',serif">10<tspan font-size="14.5" dy="-10.5">1</tspan></text>
<line x1="1859.1" y1="408" x2="1859.1" y2="423" stroke="#000" stroke-width="1.6" />
<text transform="translate(1843.5,465.5) rotate(-45)" font-size="22.5" font-family="'Liberation Serif','Times New Roman',serif">10<tspan font-size="14.5" dy="-10.5">2</tspan></text>
<text transform="translate(1563.5,218.5) rotate(-90)" font-size="24.5" text-anchor="middle" font-family="'Liberation Serif','Times New Roman',serif">Absorbance (450nm)</text>
<text x="1752" y="494.2" font-size="25" text-anchor="middle" fill="#000" font-family="'Liberation Serif','Times New Roman',serif" >mAb (μg/mL)</text>
<path d="M1624,378.9 L1626,378.8 L1628,378.7 L1630,378.5 L1632,378.3 L1633.9,378.1 L1635.9,377.9 L1637.9,377.7 L1639.9,377.5 L1641.9,377.2 L1643.9,376.9 L1645.9,376.6 L1647.9,376.2 L1649.9,375.8 L1651.9,375.4 L1653.9,374.9 L1655.9,374.3 L1657.9,373.8 L1659.8,373.1 L1661.8,372.4 L1663.8,371.7 L1665.8,370.8 L1667.8,369.9 L1669.8,368.9 L1671.8,367.8 L1673.8,366.6 L1675.8,365.3 L1677.8,363.9 L1679.8,362.4 L1681.8,360.7 L1683.8,358.9 L1685.8,356.9 L1687.7,354.8 L1689.7,352.5 L1691.7,350 L1693.7,347.4 L1695.7,344.5 L1697.7,341.4 L1699.7,338.1 L1701.7,334.6 L1703.7,330.9 L1705.7,326.9 L1707.7,322.7 L1709.7,318.3 L1711.7,313.7 L1713.6,308.8 L1715.6,303.7 L1717.6,298.5 L1719.6,293 L1721.6,287.3 L1723.6,281.6 L1725.6,275.6 L1727.6,269.6 L1729.6,263.5 L1731.6,257.4 L1733.6,251.2 L1735.6,245 L1737.6,238.9 L1739.5,232.8 L1741.5,226.8 L1743.5,220.9 L1745.5,215.2 L1747.5,209.6 L1749.5,204.3 L1751.5,199 L1753.5,194.1 L1755.5,189.3 L1757.5,184.7 L1759.5,180.4 L1761.5,176.3 L1763.5,172.4 L1765.5,168.8 L1767.4,165.4 L1769.4,162.1 L1771.4,159.2 L1773.4,156.4 L1775.4,153.8 L1777.4,151.4 L1779.4,149.1 L1781.4,147.1 L1783.4,145.2 L1785.4,143.4 L1787.4,141.8 L1789.4,140.3 L1791.4,139 L1793.3,137.7 L1795.3,136.6 L1797.3,135.5 L1799.3,134.5 L1801.3,133.7 L1803.3,132.9 L1805.3,132.1 L1807.3,131.5 L1809.3,130.8 L1811.3,130.3 L1813.3,129.8 L1815.3,129.3 L1817.3,128.9" stroke="#1010f0" stroke-width="2" fill="none" />
<path d="M1624,380 L1626,380 L1628,380 L1630,380 L1632,379.9 L1633.9,379.9 L1635.9,379.8 L1637.9,379.8 L1639.9,379.7 L1641.9,379.7 L1643.9,379.6 L1645.9,379.5 L1647.9,379.4 L1649.9,379.3 L1651.9,379.2 L1653.9,379.1 L1655.9,379 L1657.9,378.8 L1659.8,378.6 L1661.8,378.4 L1663.8,378.2 L1665.8,377.9 L1667.8,377.6 L1669.8,377.3 L1671.8,376.9 L1673.8,376.4 L1675.8,376 L1677.8,375.4 L1679.8,374.8 L1681.8,374.1 L1683.8,373.3 L1685.8,372.4 L1687.7,371.4 L1689.7,370.3 L1691.7,369.1 L1693.7,367.7 L1695.7,366.2 L1697.7,364.4 L1699.7,362.5 L1701.7,360.4 L1703.7,358 L1705.7,355.4 L1707.7,352.5 L1709.7,349.4 L1711.7,345.9 L1713.6,342.2 L1715.6,338.1 L1717.6,333.7 L1719.6,329 L1721.6,324 L1723.6,318.6 L1725.6,312.9 L1727.6,307 L1729.6,300.8 L1731.6,294.4 L1733.6,287.8 L1735.6,281 L1737.6,274.2 L1739.5,267.4 L1741.5,260.6 L1743.5,253.8 L1745.5,247.2 L1747.5,240.8 L1749.5,234.5 L1751.5,228.5 L1753.5,222.8 L1755.5,217.4 L1757.5,212.3 L1759.5,207.5 L1761.5,203 L1763.5,198.9 L1765.5,195.1 L1767.4,191.6 L1769.4,188.3 L1771.4,185.4 L1773.4,182.8 L1775.4,180.4 L1777.4,178.2 L1779.4,176.2 L1781.4,174.5 L1783.4,172.9 L1785.4,171.5 L1787.4,170.2 L1789.4,169 L1791.4,168 L1793.3,167.1 L1795.3,166.3 L1797.3,165.6 L1799.3,165 L1801.3,164.4 L1803.3,163.9 L1805.3,163.5 L1807.3,163.1 L1809.3,162.7 L1811.3,162.4 L1813.3,162.2 L1815.3,161.9 L1817.3,161.7" stroke="#ff0a0a" stroke-width="2" fill="none" />
<rect x="1614.7" y="370" width="18" height="18" fill="#0a0af5" stroke="none" stroke-width="1" />
<rect x="1642.1" y="368.1" width="18" height="18" fill="#0a0af5" stroke="none" stroke-width="1" />
<rect x="1669.8" y="352.9" width="18" height="18" fill="#0a0af5" stroke="none" stroke-width="1" />
<rect x="1698" y="304.6" width="18" height="18" fill="#0a0af5" stroke="none" stroke-width="1" />
<rect x="1725.7" y="231.6" width="18" height="18" fill="#0a0af5" stroke="none" stroke-width="1" />
<rect x="1753.5" y="162.1" width="18" height="18" fill="#0a0af5" stroke="none" stroke-width="1" />
<rect x="1781.6" y="127.9" width="18" height="18" fill="#0a0af5" stroke="none" stroke-width="1" />
<rect x="1809.4" y="104.3" width="18" height="18" fill="#0a0af5" stroke="none" stroke-width="1" />
<line x1="1734.7" y1="229.8" x2="1734.7" y2="252.3" stroke="#1010f0" stroke-width="1.6" />
<line x1="1725.7" y1="229.8" x2="1743.7" y2="229.8" stroke="#1010f0" stroke-width="1.6" />
<line x1="1725.7" y1="252.3" x2="1743.7" y2="252.3" stroke="#1010f0" stroke-width="1.6" />
<line x1="1762.5" y1="155.2" x2="1762.5" y2="184.9" stroke="#1010f0" stroke-width="1.6" />
<line x1="1753.5" y1="155.2" x2="1771.5" y2="155.2" stroke="#1010f0" stroke-width="1.6" />
<line x1="1753.5" y1="184.9" x2="1771.5" y2="184.9" stroke="#1010f0" stroke-width="1.6" />
<circle cx="1623.7" cy="381.3" r="9.3" fill="#ff0a0a" stroke="none" stroke-width="1" />
<circle cx="1651.1" cy="380.2" r="9.3" fill="#ff0a0a" stroke="none" stroke-width="1" />
<circle cx="1678.8" cy="376.4" r="9.3" fill="#ff0a0a" stroke="none" stroke-width="1" />
<circle cx="1707" cy="356.2" r="9.3" fill="#ff0a0a" stroke="none" stroke-width="1" />
<circle cx="1734.7" cy="285.1" r="9.3" fill="#ff0a0a" stroke="none" stroke-width="1" />
<circle cx="1762.5" cy="193.1" r="9.3" fill="#ff0a0a" stroke="none" stroke-width="1" />
<circle cx="1790.6" cy="171.8" r="9.3" fill="#ff0a0a" stroke="none" stroke-width="1" />
<circle cx="1818.4" cy="160.1" r="9.3" fill="#ff0a0a" stroke="none" stroke-width="1" />
<line x1="1602.4" y1="523.9" x2="1640.4" y2="523.9" stroke="#1010f0" stroke-width="1.7" />
<rect x="1612" y="514.5" width="19" height="19" fill="#0a0af5" stroke="none" stroke-width="1" />
<text x="1653" y="529.8" font-size="24.5" text-anchor="start" fill="#000" font-family="'Liberation Serif','Times New Roman',serif" >Nipah F-clamp (5B3)</text>
<line x1="1602.4" y1="562.3" x2="1640.4" y2="562.3" stroke="#ff0a0a" stroke-width="1.7" />
<circle cx="1621.4" cy="562.3" r="9.5" fill="#ff0a0a" stroke="none" stroke-width="1" />
<text x="1647" y="567.3" font-size="24.5" text-anchor="start" fill="#000" font-family="'Liberation Serif','Times New Roman',serif" >SARS-CoV-2 S-clamp</text>
<text x="1758.5" y="597.3" font-size="24.5" text-anchor="middle" fill="#000" font-family="'Liberation Serif','Times New Roman',serif" >(CR3022)</text>
<text x="15.6" y="635" font-size="43" text-anchor="start" fill="#000" font-family="'Liberation Serif','Times New Roman',serif" >D)</text>
<defs><g id="cell"><line x1="1" y1="0.3" x2="4.4" y2="1.4" stroke="#dc5a68" stroke-width="0.8"/><circle cx="5.2" cy="1.6" r="1.1" fill="none" stroke="#e06a76" stroke-width="0.6"/><line x1="0.5" y1="0.9" x2="2.1" y2="4.1" stroke="#dc5a68" stroke-width="0.8"/><circle cx="2.5" cy="4.8" r="1.1" fill="none" stroke="#e06a76" stroke-width="0.6"/><line x1="-0.3" y1="1" x2="-1.4" y2="4.4" stroke="#dc5a68" stroke-width="0.8"/><circle cx="-1.6" cy="5.2" r="1.1" fill="none" stroke="#e06a76" stroke-width="0.6"/><line x1="-0.9" y1="0.5" x2="-4.1" y2="2.1" stroke="#dc5a68" stroke-width="0.8"/><circle cx="-4.8" cy="2.5" r="1.1" fill="none" stroke="#e06a76" stroke-width="0.6"/><line x1="-1" y1="-0.3" x2="-4.4" y2="-1.4" stroke="#dc5a68" stroke-width="0.8"/><circle cx="-5.2" cy="-1.6" r="1.1" fill="none" stroke="#e06a76" stroke-width="0.6"/><line x1="-0.5" y1="-0.9" x2="-2.1" y2="-4.1" stroke="#dc5a68" stroke-width="0.8"/><circle cx="-2.5" cy="-4.8" r="1.1" fill="none" stroke="#e06a76" stroke-width="0.6"/><line x1="0.3" y1="-1" x2="1.4" y2="-4.4" stroke="#dc5a68" stroke-width="0.8"/><circle cx="1.6" cy="-5.2" r="1.1" fill="none" stroke="#e06a76" stroke-width="0.6"/><line x1="0.9" y1="-0.5" x2="4.1" y2="-2.1" stroke="#dc5a68" stroke-width="0.8"/><circle cx="4.8" cy="-2.5" r="1.1" fill="none" stroke="#e06a76" stroke-width="0.6"/><ellipse cx="0" cy="0" rx="1.5" ry="1.9" fill="#c0142a"/></g></defs>
<path d="M82.3,825.8 L82.3,848.5 A65,39 0 0 0 212.3,848.5 L212.3,825.8 Z" fill="#f8d3d6" stroke="#8b9aa5" stroke-width="1.1"/>
<path d="M85.3,842.8 A62,37 0 0 0 209.3,842.8" fill="none" stroke="#f2b0b7" stroke-width="2"/>
<ellipse cx="147.3" cy="825.8" rx="65" ry="40" fill="#e8eef1" stroke="#8b9aa5" stroke-width="1.1"/>
<ellipse cx="147.3" cy="827.3" rx="62.8" ry="37.8" fill="none" stroke="#9fb0ba" stroke-width="0.8"/>
<ellipse cx="147.3" cy="832.8" rx="62" ry="31.5" fill="#f8b9bd" stroke="#e9999f" stroke-width="1.2"/>
<path d="M86.3,831.8 A61,30 0 0 1 208.3,831.8" fill="none" stroke="#f0a0a8" stroke-width="3.5" opacity="0.8"/>
<use href="#cell" x="112.8" y="823.1"/>
<use href="#cell" x="129.5" y="819.2"/>
<use href="#cell" x="145.5" y="819.2"/>
<use href="#cell" x="155.7" y="812.2"/>
<use href="#cell" x="168.5" y="821.5"/>
<use href="#cell" x="124.9" y="832.1"/>
<use href="#cell" x="138.1" y="834"/>
<use href="#cell" x="145.9" y="832.4"/>
<use href="#cell" x="158.8" y="828.2"/>
<use href="#cell" x="171.6" y="837.1"/>
<use href="#cell" x="119.8" y="844.9"/>
<use href="#cell" x="129.9" y="845.3"/>
<use href="#cell" x="145.9" y="844.9"/>
<use href="#cell" x="158.8" y="840.6"/>
<use href="#cell" x="164.2" y="850.4"/>
<use href="#cell" x="140.5" y="855.1"/>
<use href="#cell" x="153.7" y="855.4"/>
<path d="M82.3,825.8 A65,40 0 0 0 212.3,825.8" fill="none" stroke="#8fa3b0" stroke-width="1.3"/>
<path d="M84.3,827.8 A63,38 0 0 0 210.3,827.8" fill="none" stroke="#ffffff" stroke-width="1.2" opacity="0.8"/>
<path d="M290.9,825.8 L290.9,848.5 A65,39 0 0 0 420.9,848.5 L420.9,825.8 Z" fill="#f8d3d6" stroke="#8b9aa5" stroke-width="1.1"/>
<path d="M293.9,842.8 A62,37 0 0 0 417.9,842.8" fill="none" stroke="#f2b0b7" stroke-width="2"/>
<ellipse cx="355.9" cy="825.8" rx="65" ry="40" fill="#e8eef1" stroke="#8b9aa5" stroke-width="1.1"/>
<ellipse cx="355.9" cy="827.3" rx="62.8" ry="37.8" fill="none" stroke="#9fb0ba" stroke-width="0.8"/>
<ellipse cx="355.9" cy="832.8" rx="62" ry="31.5" fill="#f8b9bd" stroke="#e9999f" stroke-width="1.2"/>
<path d="M294.9,831.8 A61,30 0 0 1 416.9,831.8" fill="none" stroke="#f0a0a8" stroke-width="3.5" opacity="0.8"/>
<use href="#cell" x="321.4" y="823.1"/>
<use href="#cell" x="338.1" y="819.2"/>
<use href="#cell" x="354.1" y="819.2"/>
<use href="#cell" x="364.3" y="812.2"/>
<use href="#cell" x="377.1" y="821.5"/>
<use href="#cell" x="333.5" y="832.1"/>
<use href="#cell" x="346.7" y="834"/>
<use href="#cell" x="354.5" y="832.4"/>
<use href="#cell" x="367.4" y="828.2"/>
<use href="#cell" x="380.2" y="837.1"/>
<use href="#cell" x="328.4" y="844.9"/>
<use href="#cell" x="338.5" y="845.3"/>
<use href="#cell" x="354.5" y="844.9"/>
<use href="#cell" x="367.4" y="840.6"/>
<use href="#cell" x="372.8" y="850.4"/>
<use href="#cell" x="349.1" y="855.1"/>
<use href="#cell" x="362.3" y="855.4"/>
<path d="M290.9,825.8 A65,40 0 0 0 420.9,825.8" fill="none" stroke="#8fa3b0" stroke-width="1.3"/>
<path d="M292.9,827.8 A63,38 0 0 0 418.9,827.8" fill="none" stroke="#ffffff" stroke-width="1.2" opacity="0.8"/>
<path d="M504.5,825.8 L504.5,848.5 A65,39 0 0 0 634.5,848.5 L634.5,825.8 Z" fill="#f8d3d6" stroke="#8b9aa5" stroke-width="1.1"/>
<path d="M507.5,842.8 A62,37 0 0 0 631.5,842.8" fill="none" stroke="#f2b0b7" stroke-width="2"/>
<ellipse cx="569.5" cy="825.8" rx="65" ry="40" fill="#e8eef1" stroke="#8b9aa5" stroke-width="1.1"/>
<ellipse cx="569.5" cy="827.3" rx="62.8" ry="37.8" fill="none" stroke="#9fb0ba" stroke-width="0.8"/>
<ellipse cx="569.5" cy="832.8" rx="62" ry="31.5" fill="#f8b9bd" stroke="#e9999f" stroke-width="1.2"/>
<path d="M508.5,831.8 A61,30 0 0 1 630.5,831.8" fill="none" stroke="#f0a0a8" stroke-width="3.5" opacity="0.8"/>
<use href="#cell" x="535" y="823.1"/>
<use href="#cell" x="551.7" y="819.2"/>
<use href="#cell" x="567.7" y="819.2"/>
<use href="#cell" x="577.9" y="812.2"/>
<use href="#cell" x="590.7" y="821.5"/>
<use href="#cell" x="547.1" y="832.1"/>
<use href="#cell" x="560.3" y="834"/>
<use href="#cell" x="568.1" y="832.4"/>
<use href="#cell" x="581" y="828.2"/>
<use href="#cell" x="593.8" y="837.1"/>
<use href="#cell" x="542" y="844.9"/>
<use href="#cell" x="552.1" y="845.3"/>
<use href="#cell" x="568.1" y="844.9"/>
<use href="#cell" x="581" y="840.6"/>
<use href="#cell" x="586.4" y="850.4"/>
<use href="#cell" x="562.7" y="855.1"/>
<use href="#cell" x="575.9" y="855.4"/>
<path d="M504.5,825.8 A65,40 0 0 0 634.5,825.8" fill="none" stroke="#8fa3b0" stroke-width="1.3"/>
<path d="M506.5,827.8 A63,38 0 0 0 632.5,827.8" fill="none" stroke="#ffffff" stroke-width="1.2" opacity="0.8"/>
<path d="M713.5,825.8 L713.5,848.5 A65,39 0 0 0 843.5,848.5 L843.5,825.8 Z" fill="#f8d3d6" stroke="#8b9aa5" stroke-width="1.1"/>
<path d="M716.5,842.8 A62,37 0 0 0 840.5,842.8" fill="none" stroke="#f2b0b7" stroke-width="2"/>
<ellipse cx="778.5" cy="825.8" rx="65" ry="40" fill="#e8eef1" stroke="#8b9aa5" stroke-width="1.1"/>
<ellipse cx="778.5" cy="827.3" rx="62.8" ry="37.8" fill="none" stroke="#9fb0ba" stroke-width="0.8"/>
<ellipse cx="778.5" cy="832.8" rx="62" ry="31.5" fill="#f8b9bd" stroke="#e9999f" stroke-width="1.2"/>
<path d="M717.5,831.8 A61,30 0 0 1 839.5,831.8" fill="none" stroke="#f0a0a8" stroke-width="3.5" opacity="0.8"/>
<use href="#cell" x="744" y="823.1"/>
<use href="#cell" x="760.7" y="819.2"/>
<use href="#cell" x="776.7" y="819.2"/>
<use href="#cell" x="786.9" y="812.2"/>
<use href="#cell" x="799.7" y="821.5"/>
<use href="#cell" x="756.1" y="832.1"/>
<use href="#cell" x="769.3" y="834"/>
<use href="#cell" x="777.1" y="832.4"/>
<use href="#cell" x="790" y="828.2"/>
<use href="#cell" x="802.8" y="837.1"/>
<use href="#cell" x="751" y="844.9"/>
<use href="#cell" x="761.1" y="845.3"/>
<use href="#cell" x="777.1" y="844.9"/>
<use href="#cell" x="790" y="840.6"/>
<use href="#cell" x="795.4" y="850.4"/>
<use href="#cell" x="771.7" y="855.1"/>
<use href="#cell" x="784.9" y="855.4"/>
<path d="M713.5,825.8 A65,40 0 0 0 843.5,825.8" fill="none" stroke="#8fa3b0" stroke-width="1.3"/>
<path d="M715.5,827.8 A63,38 0 0 0 841.5,827.8" fill="none" stroke="#ffffff" stroke-width="1.2" opacity="0.8"/>
<ellipse cx="99.7" cy="700.3" rx="19.9" ry="21.6" fill="#f9e1e2" stroke="#9e2232" stroke-width="2.7"/>
<text x="99.7" y="707.3" font-size="19" text-anchor="middle" fill="#000" font-family="'Liberation Sans',Arial,sans-serif" >1</text>
<ellipse cx="310.6" cy="700.1" rx="19.9" ry="21.6" fill="#f9e1e2" stroke="#9e2232" stroke-width="2.7"/>
<text x="310.6" y="707.1" font-size="19" text-anchor="middle" fill="#000" font-family="'Liberation Sans',Arial,sans-serif" >2</text>
<ellipse cx="521.9" cy="700.1" rx="19.9" ry="21.6" fill="#f9e1e2" stroke="#9e2232" stroke-width="2.7"/>
<text x="521.9" y="707.1" font-size="19" text-anchor="middle" fill="#000" font-family="'Liberation Sans',Arial,sans-serif" >3</text>
<ellipse cx="718.9" cy="700.1" rx="19.9" ry="21.6" fill="#f9e1e2" stroke="#9e2232" stroke-width="2.7"/>
<text x="718.9" y="707.1" font-size="19" text-anchor="middle" fill="#000" font-family="'Liberation Sans',Arial,sans-serif" >4</text>
<text x="139" y="700.7" font-size="24.5" text-anchor="start" fill="#000" font-family="'Liberation Serif','Times New Roman',serif" >LPS</text>
<text x="339" y="700.5" font-size="24.5" text-anchor="start" fill="#000" font-family="'Liberation Serif','Times New Roman',serif" >LPS</text>
<text x="551.5" y="700.5" font-size="24.5" text-anchor="start" fill="#000" font-family="'Liberation Serif','Times New Roman',serif" >MCC950</text>
<text x="745.5" y="704.6" font-size="24.5" text-anchor="start" fill="#000" font-family="'Liberation Serif','Times New Roman',serif" >Spike or F protein</text>
<path d="M124.2,725.3 C150.2,728.3 169.6,739.3 168.6,762" fill="none" stroke="#1a1a1a" stroke-width="1.9"/>
<path d="M162.1,761 L175.6,761 L168.6,774 Z" fill="#1a1a1a"/>
<path d="M558.8,717.6 C584.8,720.6 606.3,731.6 605.3,753.5" fill="none" stroke="#1a1a1a" stroke-width="1.9"/>
<path d="M598.8,752.5 L612.3,752.5 L605.3,765.5 Z" fill="#1a1a1a"/>
<path d="M756.7,717.6 C782.7,720.6 802.5,731.6 801.5,753.5" fill="none" stroke="#1a1a1a" stroke-width="1.9"/>
<path d="M795,752.5 L808.5,752.5 L801.5,765.5 Z" fill="#1a1a1a"/>
<path d="M354.2,806.2 C348,790 336,768 336.2,752.5 C336.4,745 339,740 342.5,736.5" fill="none" stroke="#1a1a1a" stroke-width="1.8"/>
<path d="M337.2,731.1 L351.1,728.5 L345,742 Z" fill="#1a1a1a"/>
<path d="M224.9,852.1 L268.4,851.7 L268.4,854.9 L224.9,854.5 Z" fill="#1a1a1a"/>
<path d="M267.4,846.3 L280.4,853.3 L267.4,860.3 Z" fill="#1a1a1a"/>
<text x="235" y="845.7" font-size="24.5" text-anchor="start" fill="#000" font-family="'Liberation Serif','Times New Roman',serif" >3h</text>
<text x="224.5" y="879" font-size="24.5" text-anchor="start" fill="#000" font-family="'Liberation Serif','Times New Roman',serif" >37°C</text>
<path d="M435.6,852.1 L480,851.7 L480,854.9 L435.6,854.5 Z" fill="#1a1a1a"/>
<path d="M479,846.3 L492,853.3 L479,860.3 Z" fill="#1a1a1a"/>
<text x="434" y="840" font-size="24.5" text-anchor="start" fill="#000" font-family="'Liberation Serif','Times New Roman',serif" >wash</text>
<path d="M640.7,851.6 L683.9,851.2 L683.9,854.4 L640.7,854 Z" fill="#1a1a1a"/>
<path d="M682.9,845.8 L695.9,852.8 L682.9,859.8 Z" fill="#1a1a1a"/>
<text x="638.8" y="846.5" font-size="24.5" text-anchor="start" fill="#000" font-family="'Liberation Serif','Times New Roman',serif" >30 min</text>
<text x="637.3" y="879.5" font-size="24.5" text-anchor="start" fill="#000" font-family="'Liberation Serif','Times New Roman',serif" >37°C</text>
<path d="M855.1,848.4 L904.5,848 L904.5,851.2 L855.1,850.8 Z" fill="#1a1a1a"/>
<path d="M903.5,842.6 L916.5,849.6 L903.5,856.6 Z" fill="#1a1a1a"/>
<text x="854" y="839.2" font-size="24.5" text-anchor="start" fill="#000" font-family="'Liberation Serif','Times New Roman',serif" >24h</text>
<text x="854" y="871.7" font-size="24.5" text-anchor="start" fill="#000" font-family="'Liberation Serif','Times New Roman',serif" >37°C</text>
<text x="925" y="795.1" font-size="24.5" text-anchor="start" fill="#000" font-family="'Liberation Serif','Times New Roman',serif" >Cleaved IL-1β</text>
<defs><radialGradient id="ballD" cx="0.4" cy="0.35" r="0.7"><stop offset="0" stop-color="#4a78c0"/><stop offset="1" stop-color="#173d80"/></radialGradient><radialGradient id="ballL" cx="0.4" cy="0.35" r="0.7"><stop offset="0" stop-color="#a8bde0"/><stop offset="1" stop-color="#6f8cc0"/></radialGradient></defs>
<ellipse cx="958.5" cy="835.4" rx="6.3" ry="6.6" fill="url(#ballD)"/>
<ellipse cx="940.8" cy="846.5" rx="6.3" ry="6.6" fill="url(#ballL)"/>
<ellipse cx="950.6" cy="863.2" rx="6.3" ry="6.6" fill="url(#ballD)"/>
<text x="96.5" y="916.8" font-size="24.5" text-anchor="start" fill="#000" font-family="'Liberation Serif','Times New Roman',serif" >“Priming”</text>
<text x="281.5" y="916.8" font-size="24.5" text-anchor="start" fill="#000" font-family="'Liberation Serif','Times New Roman',serif" >“Remove LPS”</text>
<text x="494.8" y="912.6" font-size="24.5" text-anchor="start" fill="#000" font-family="'Liberation Serif','Times New Roman',serif" >“Treatment with</text>
<text x="494.8" y="942.6" font-size="24.5" text-anchor="start" fill="#000" font-family="'Liberation Serif','Times New Roman',serif" >NLRP3 inhibitor”</text>
<text x="707.3" y="915.8" font-size="24.5" text-anchor="start" fill="#000" font-family="'Liberation Serif','Times New Roman',serif" >“Activation”</text>
<text x="1225.6" y="634" font-size="43" text-anchor="start" fill="#000" font-family="'Liberation Serif','Times New Roman',serif" >E)</text>
<line x1="1325.6" y1="662.3" x2="1325.6" y2="994.3" stroke="#000" stroke-width="1.7" />
<line x1="1313" y1="993.5" x2="1961.5" y2="993.5" stroke="#000" stroke-width="1.7" />
<line x1="1313" y1="993.5" x2="1325.6" y2="993.5" stroke="#000" stroke-width="1.6" />
<text x="1307.5" y="1001.8" font-size="24.5" text-anchor="end" fill="#000" font-family="'Liberation Serif','Times New Roman',serif" >0</text>
<line x1="1313" y1="910.9" x2="1325.6" y2="910.9" stroke="#000" stroke-width="1.6" />
<text x="1307.5" y="919.1" font-size="24.5" text-anchor="end" fill="#000" font-family="'Liberation Serif','Times New Roman',serif" >100</text>
<line x1="1313" y1="828.2" x2="1325.6" y2="828.2" stroke="#000" stroke-width="1.6" />
<text x="1307.5" y="836.5" font-size="24.5" text-anchor="end" fill="#000" font-family="'Liberation Serif','Times New Roman',serif" >200</text>
<line x1="1313" y1="745.5" x2="1325.6" y2="745.5" stroke="#000" stroke-width="1.6" />
<text x="1307.5" y="753.8" font-size="24.5" text-anchor="end" fill="#000" font-family="'Liberation Serif','Times New Roman',serif" >300</text>
<line x1="1313" y1="662.9" x2="1325.6" y2="662.9" stroke="#000" stroke-width="1.6" />
<text x="1307.5" y="671.2" font-size="24.5" text-anchor="end" fill="#000" font-family="'Liberation Serif','Times New Roman',serif" >400</text>
<text transform="translate(1250.5,814) rotate(-90)" font-size="24.8" text-anchor="middle" font-family="'Liberation Serif','Times New Roman',serif">Supernatant IL-1β (pg/mL)</text>
<line x1="1366.4" y1="993.5" x2="1366.4" y2="1007.2" stroke="#000" stroke-width="1.6" />
<line x1="1427.6" y1="993.5" x2="1427.6" y2="1007.2" stroke="#000" stroke-width="1.6" />
<line x1="1488.9" y1="993.5" x2="1488.9" y2="1007.2" stroke="#000" stroke-width="1.6" />
<line x1="1550.1" y1="993.5" x2="1550.1" y2="1007.2" stroke="#000" stroke-width="1.6" />
<line x1="1611.4" y1="993.5" x2="1611.4" y2="1007.2" stroke="#000" stroke-width="1.6" />
<line x1="1672.6" y1="993.5" x2="1672.6" y2="1007.2" stroke="#000" stroke-width="1.6" />
<line x1="1733.8" y1="993.5" x2="1733.8" y2="1007.2" stroke="#000" stroke-width="1.6" />
<line x1="1795.1" y1="993.5" x2="1795.1" y2="1007.2" stroke="#000" stroke-width="1.6" />
<line x1="1856.3" y1="993.5" x2="1856.3" y2="1007.2" stroke="#000" stroke-width="1.6" />
<line x1="1917.6" y1="993.5" x2="1917.6" y2="1007.2" stroke="#000" stroke-width="1.6" />
<rect x="1469" y="962" width="39.7" height="31.5" fill="#f9a06e" stroke="#000" stroke-width="1.6"/>
<rect x="1530.3" y="940.3" width="39.7" height="53.2" fill="#f9a1a1" stroke="#000" stroke-width="1.6"/>
<rect x="1591.5" y="923.6" width="39.7" height="69.9" fill="#fafaa6" stroke="#000" stroke-width="1.6"/>
<rect x="1836.5" y="988" width="39.7" height="5.5" fill="#e07a85" stroke="#000" stroke-width="1.2"/>
<rect x="1897.7" y="792.4" width="39.7" height="201.1" fill="#b07fc0" stroke="#000" stroke-width="1.6"/>
<circle cx="1350.1" cy="989.2" r="4" fill="#138a13" stroke="#fff" stroke-width="1.3" />
<circle cx="1360.7" cy="989.5" r="4" fill="#138a13" stroke="#fff" stroke-width="1.3" />
<circle cx="1369.9" cy="989.5" r="4" fill="#138a13" stroke="#fff" stroke-width="1.3" />
<circle cx="1376.6" cy="989.2" r="4" fill="#138a13" stroke="#fff" stroke-width="1.3" />
<circle cx="1383.3" cy="989.8" r="4" fill="#138a13" stroke="#fff" stroke-width="1.3" />
<circle cx="1355.6" cy="980" r="4" fill="#138a13" stroke="#fff" stroke-width="1.3" />
<circle cx="1371.4" cy="979.1" r="4" fill="#138a13" stroke="#fff" stroke-width="1.3" />
<circle cx="1377.5" cy="977" r="4" fill="#138a13" stroke="#fff" stroke-width="1.3" />
<line x1="1366.4" y1="984" x2="1366.4" y2="987.3" stroke="#000" stroke-width="1.6" />
<line x1="1356.1" y1="984" x2="1376.7" y2="984" stroke="#000" stroke-width="1.6" />
<line x1="1356.1" y1="987.3" x2="1376.7" y2="987.3" stroke="#000" stroke-width="1.6" />
<circle cx="1411.4" cy="988.3" r="4" fill="#636363" stroke="#fff" stroke-width="1.3" />
<circle cx="1420.6" cy="988.3" r="4" fill="#636363" stroke="#fff" stroke-width="1.3" />
<circle cx="1430" cy="988.3" r="4" fill="#636363" stroke="#fff" stroke-width="1.3" />
<circle cx="1438.8" cy="988.3" r="4" fill="#636363" stroke="#fff" stroke-width="1.3" />
<circle cx="1443.7" cy="988" r="4" fill="#636363" stroke="#fff" stroke-width="1.3" />
<circle cx="1416" cy="978.5" r="4" fill="#636363" stroke="#fff" stroke-width="1.3" />
<circle cx="1425.4" cy="979.4" r="4" fill="#636363" stroke="#fff" stroke-width="1.3" />
<circle cx="1430.9" cy="977.9" r="4" fill="#636363" stroke="#fff" stroke-width="1.3" />
<line x1="1427.6" y1="983.7" x2="1427.6" y2="986.7" stroke="#000" stroke-width="1.6" />
<line x1="1417.3" y1="983.7" x2="1437.9" y2="983.7" stroke="#000" stroke-width="1.6" />
<line x1="1417.3" y1="986.7" x2="1437.9" y2="986.7" stroke="#000" stroke-width="1.6" />
<line x1="1488.9" y1="960" x2="1488.9" y2="963" stroke="#000" stroke-width="1.6" />
<line x1="1478.6" y1="960" x2="1499.2" y2="960" stroke="#000" stroke-width="1.6" />
<line x1="1478.6" y1="963" x2="1499.2" y2="963" stroke="#000" stroke-width="1.6" />
<circle cx="1472.8" cy="964.5" r="4.2" fill="#ff6a0e" stroke="#fff" stroke-width="1.3" />
<circle cx="1488.8" cy="958.6" r="4.2" fill="#ff6a0e" stroke="#fff" stroke-width="1.3" />
<circle cx="1504.8" cy="962.2" r="4.2" fill="#ff6a0e" stroke="#fff" stroke-width="1.3" />
<circle cx="1541" cy="926.4" r="4.2" fill="#ff0000" stroke="#fff" stroke-width="1.3" />
<circle cx="1559.3" cy="926.4" r="4.2" fill="#ff0000" stroke="#fff" stroke-width="1.3" />
<circle cx="1534.6" cy="942.6" r="4.2" fill="#ff0000" stroke="#fff" stroke-width="1.3" />
<circle cx="1550.1" cy="944.8" r="4.2" fill="#ff0000" stroke="#fff" stroke-width="1.3" />
<circle cx="1566.1" cy="947.4" r="4.2" fill="#ff0000" stroke="#fff" stroke-width="1.3" />
<circle cx="1534.6" cy="954.7" r="4.2" fill="#ff0000" stroke="#fff" stroke-width="1.3" />
<line x1="1550.1" y1="935.2" x2="1550.1" y2="944.6" stroke="#000" stroke-width="1.6" />
<line x1="1539.8" y1="935.2" x2="1560.4" y2="935.2" stroke="#000" stroke-width="1.6" />
<line x1="1539.8" y1="944.6" x2="1560.4" y2="944.6" stroke="#000" stroke-width="1.6" />
<circle cx="1602.3" cy="903.2" r="4.2" fill="#ffa310" stroke="#fff" stroke-width="1.3" />
<circle cx="1620.6" cy="902.6" r="4.2" fill="#ffa310" stroke="#fff" stroke-width="1.3" />
<circle cx="1595.7" cy="936.1" r="4.2" fill="#ffa310" stroke="#fff" stroke-width="1.3" />
<circle cx="1606.1" cy="930.2" r="4.2" fill="#ffa310" stroke="#fff" stroke-width="1.3" />
<circle cx="1616.7" cy="934.3" r="4.2" fill="#ffa310" stroke="#fff" stroke-width="1.3" />
<circle cx="1627.5" cy="932.2" r="4.2" fill="#ffa310" stroke="#fff" stroke-width="1.3" />
<line x1="1611.4" y1="916.5" x2="1611.4" y2="929.5" stroke="#000" stroke-width="1.6" />
<line x1="1601.1" y1="916.5" x2="1621.7" y2="916.5" stroke="#000" stroke-width="1.6" />
<line x1="1601.1" y1="929.5" x2="1621.7" y2="929.5" stroke="#000" stroke-width="1.6" />
<circle cx="1656.8" cy="991.5" r="4.2" fill="#8c1118" stroke="#fff" stroke-width="1.3" />
<circle cx="1667.4" cy="990.3" r="4.2" fill="#8c1118" stroke="#fff" stroke-width="1.3" />
<circle cx="1678.1" cy="991.3" r="4.2" fill="#8c1118" stroke="#fff" stroke-width="1.3" />
<circle cx="1688.7" cy="990.5" r="4.2" fill="#8c1118" stroke="#fff" stroke-width="1.3" />
<line x1="1662" y1="991.8" x2="1683.5" y2="991.8" stroke="#000" stroke-width="2" />
<line x1="1733.8" y1="987.2" x2="1733.8" y2="990.1" stroke="#000" stroke-width="1.6" />
<line x1="1723.5" y1="987.2" x2="1744.1" y2="987.2" stroke="#000" stroke-width="1.6" />
<line x1="1723.5" y1="990.1" x2="1744.1" y2="990.1" stroke="#000" stroke-width="1.6" />
<circle cx="1717.9" cy="989.3" r="4.2" fill="#ff6a0e" stroke="#fff" stroke-width="1.3" />
<circle cx="1733.7" cy="988.6" r="4.2" fill="#ff6a0e" stroke="#fff" stroke-width="1.3" />
<circle cx="1749.8" cy="989.3" r="4.2" fill="#ff6a0e" stroke="#fff" stroke-width="1.3" />
<line x1="1795.1" y1="985.5" x2="1795.1" y2="988.6" stroke="#000" stroke-width="1.6" />
<line x1="1784.8" y1="985.5" x2="1805.4" y2="985.5" stroke="#000" stroke-width="1.6" />
<line x1="1784.8" y1="988.6" x2="1805.4" y2="988.6" stroke="#000" stroke-width="1.6" />
<circle cx="1779.2" cy="988.4" r="4.2" fill="#ff0000" stroke="#fff" stroke-width="1.3" />
<circle cx="1795.2" cy="985.1" r="4.2" fill="#ff0000" stroke="#fff" stroke-width="1.3" />
<circle cx="1811.4" cy="987" r="4.2" fill="#ff0000" stroke="#fff" stroke-width="1.3" />
<line x1="1856.3" y1="984.9" x2="1856.3" y2="988.2" stroke="#000" stroke-width="1.6" />
<line x1="1846" y1="984.9" x2="1866.6" y2="984.9" stroke="#000" stroke-width="1.6" />
<line x1="1846" y1="988.2" x2="1866.6" y2="988.2" stroke="#000" stroke-width="1.6" />
<circle cx="1841" cy="987.4" r="4.2" fill="#8c1118" stroke="#fff" stroke-width="1.3" />
<circle cx="1856.5" cy="983.7" r="4.2" fill="#8c1118" stroke="#fff" stroke-width="1.3" />
<circle cx="1872.5" cy="987" r="4.2" fill="#8c1118" stroke="#fff" stroke-width="1.3" />
<circle cx="1908.7" cy="737.3" r="4.3" fill="#7b0c9e" stroke="#fff" stroke-width="1.3" />
<circle cx="1927" cy="733.2" r="4.3" fill="#7b0c9e" stroke="#fff" stroke-width="1.3" />
<circle cx="1917.7" cy="784.7" r="4.3" fill="#7b0c9e" stroke="#fff" stroke-width="1.3" />
<circle cx="1927" cy="823.1" r="4.3" fill="#7b0c9e" stroke="#fff" stroke-width="1.3" />
<circle cx="1908.7" cy="828.9" r="4.3" fill="#7b0c9e" stroke="#fff" stroke-width="1.3" />
<circle cx="1917.7" cy="842.4" r="4.3" fill="#7b0c9e" stroke="#fff" stroke-width="1.3" />
<line x1="1917.6" y1="772.1" x2="1917.6" y2="811.1" stroke="#000" stroke-width="1.6" />
<line x1="1907.3" y1="772.1" x2="1927.9" y2="772.1" stroke="#000" stroke-width="1.6" />
<line x1="1907.3" y1="811.1" x2="1927.9" y2="811.1" stroke="#000" stroke-width="1.6" />
<path d="M1427.5,935.6 L1427.5,924.9 L1488.8,924.9 L1488.8,935.6" fill="none" stroke="#000" stroke-width="1.6"/>
<text x="1461" y="921.1" font-size="24.5" text-anchor="middle" fill="#000" font-family="'Liberation Serif','Times New Roman',serif" >ns</text>
<path d="M1427.5,878.4 L1427.5,868.2 L1550.2,868.2 L1550.2,878.4" fill="none" stroke="#000" stroke-width="1.6"/>
<text x="1487" y="871.5" font-size="25" text-anchor="middle" fill="#000" font-family="'Liberation Serif','Times New Roman',serif" letter-spacing="0.3">***</text>
<path d="M1427.5,833.4 L1427.5,823.5 L1611.5,823.5 L1611.5,833.4" fill="none" stroke="#000" stroke-width="1.6"/>
<text x="1514.7" y="824.3" font-size="25" text-anchor="middle" fill="#000" font-family="'Liberation Serif','Times New Roman',serif" letter-spacing="0.3">****</text>
<path d="M1611,888 L1611,877.6 L1673,877.6 L1673,888" fill="none" stroke="#000" stroke-width="1.6"/>
<text x="1638.7" y="880.7" font-size="25" text-anchor="middle" fill="#000" font-family="'Liberation Serif','Times New Roman',serif" letter-spacing="0.3">****</text>
<text x="1354" y="1040.3" font-size="24.5" text-anchor="middle" fill="#000" font-family="'Liberation Serif','Times New Roman',serif" >Vehicle</text>
<text x="1427.8" y="1040.3" font-size="24.5" text-anchor="middle" fill="#000" font-family="'Liberation Serif','Times New Roman',serif" >LPS</text>
<text x="1486.7" y="1040.3" font-size="24.5" text-anchor="middle" fill="#000" font-family="'Liberation Serif','Times New Roman',serif" >S(2)</text>
<text x="1550.2" y="1040.3" font-size="24.5" text-anchor="middle" fill="#000" font-family="'Liberation Serif','Times New Roman',serif" >S(10)</text>
<text x="1611.9" y="1040.3" font-size="24.5" text-anchor="middle" fill="#000" font-family="'Liberation Serif','Times New Roman',serif" >S(50)</text>
<text x="1671.6" y="1038.3" font-size="24.5" text-anchor="middle" fill="#000" font-family="'Liberation Serif','Times New Roman',serif" >S(50)</text>
<text x="1733" y="1040.3" font-size="24.5" text-anchor="middle" fill="#000" font-family="'Liberation Serif','Times New Roman',serif" >F(50)</text>
<text x="1795.4" y="1040.3" font-size="24.5" text-anchor="middle" fill="#000" font-family="'Liberation Serif','Times New Roman',serif" >F(10)</text>
<text x="1857.4" y="1040.3" font-size="24.5" text-anchor="middle" fill="#000" font-family="'Liberation Serif','Times New Roman',serif" >F(50)</text>
<text x="1916.7" y="1040.3" font-size="24.5" text-anchor="middle" fill="#000" font-family="'Liberation Serif','Times New Roman',serif" >ATP</text>
<text x="1299.8" y="1066.1" font-size="24.5" text-anchor="end" fill="#000" font-family="'Liberation Serif','Times New Roman',serif" >LPS</text>
<text x="1303.8" y="1101.7" font-size="24.5" text-anchor="end" fill="#000" font-family="'Liberation Serif','Times New Roman',serif" >MCC950</text>
<text x="1358.6" y="1069" font-size="24.5" text-anchor="middle" fill="#000" font-family="'Liberation Serif','Times New Roman',serif" >-</text>
<text x="1430.8" y="1069" font-size="24.5" text-anchor="middle" fill="#000" font-family="'Liberation Serif','Times New Roman',serif" >+</text>
<text x="1486.7" y="1069" font-size="24.5" text-anchor="middle" fill="#000" font-family="'Liberation Serif','Times New Roman',serif" >+</text>
<text x="1548.8" y="1069" font-size="24.5" text-anchor="middle" fill="#000" font-family="'Liberation Serif','Times New Roman',serif" >+</text>
<text x="1608.8" y="1069" font-size="24.5" text-anchor="middle" fill="#000" font-family="'Liberation Serif','Times New Roman',serif" >+</text>
<text x="1668.3" y="1069" font-size="24.5" text-anchor="middle" fill="#000" font-family="'Liberation Serif','Times New Roman',serif" >+</text>
<text x="1730.9" y="1069" font-size="24.5" text-anchor="middle" fill="#000" font-family="'Liberation Serif','Times New Roman',serif" >-</text>
<text x="1789.4" y="1069" font-size="24.5" text-anchor="middle" fill="#000" font-family="'Liberation Serif','Times New Roman',serif" >+</text>
<text x="1860.6" y="1069" font-size="24.5" text-anchor="middle" fill="#000" font-family="'Liberation Serif','Times New Roman',serif" >+</text>
<text x="1916.5" y="1069" font-size="24.5" text-anchor="middle" fill="#000" font-family="'Liberation Serif','Times New Roman',serif" >+</text>
<text x="1358.6" y="1101" font-size="24.5" text-anchor="middle" fill="#000" font-family="'Liberation Serif','Times New Roman',serif" >-</text>
<text x="1430.8" y="1101" font-size="24.5" text-anchor="middle" fill="#000" font-family="'Liberation Serif','Times New Roman',serif" >-</text>
<text x="1489" y="1101" font-size="24.5" text-anchor="middle" fill="#000" font-family="'Liberation Serif','Times New Roman',serif" >-</text>
<text x="1550.2" y="1101" font-size="24.5" text-anchor="middle" fill="#000" font-family="'Liberation Serif','Times New Roman',serif" >-</text>
<text x="1610.4" y="1101" font-size="24.5" text-anchor="middle" fill="#000" font-family="'Liberation Serif','Times New Roman',serif" >-</text>
<text x="1668.3" y="1100" font-size="24.5" text-anchor="middle" fill="#000" font-family="'Liberation Serif','Times New Roman',serif" >+</text>
<text x="1730.9" y="1101" font-size="24.5" text-anchor="middle" fill="#000" font-family="'Liberation Serif','Times New Roman',serif" >-</text>
<text x="1791.4" y="1101" font-size="24.5" text-anchor="middle" fill="#000" font-family="'Liberation Serif','Times New Roman',serif" >-</text>
<text x="1853.6" y="1101" font-size="24.5" text-anchor="middle" fill="#000" font-family="'Liberation Serif','Times New Roman',serif" >-</text>
<text x="1920.6" y="1101" font-size="24.5" text-anchor="middle" fill="#000" font-family="'Liberation Serif','Times New Roman',serif" >-</text>
<text x="18.6" y="1140.5" font-size="43" text-anchor="start" fill="#000" font-family="'Liberation Serif','Times New Roman',serif" >F)</text>
<filter id="bblur" x="-10%" y="-80%" width="120%" height="260%"><feGaussianBlur stdDeviation="1.6"/></filter>
<linearGradient id="bg1" x1="0" y1="0" x2="1" y2="0"><stop offset="0" stop-color="#b8b8b8"/><stop offset="1" stop-color="#b2b2b2"/></linearGradient>
<rect x="158.3" y="1270.1" width="549.5" height="58" fill="url(#bg1)" stroke="none" stroke-width="1" />
<g filter="url(#bblur)" clip-path="url(#clipF1)">
<rect x="604" y="1298" width="92" height="14" rx="7" fill="#8c8c8c" opacity="0.45"/>
<rect x="608" y="1301.4" width="84" height="7" rx="3.5" fill="#626262" opacity="0.7"/>
<rect x="180" y="1285" width="20" height="14" rx="7" fill="#c8c8c8" opacity="0.3"/>
</g>
<clipPath id="clipF1"><rect x="158.3" y="1270.1" width="549.5" height="58"/></clipPath>
<rect x="158.3" y="1270.1" width="549.5" height="58" fill="none" stroke="#111" stroke-width="1.6" />
<linearGradient id="bg2" x1="0" y1="0" x2="1" y2="0"><stop offset="0" stop-color="#9a9a9a"/><stop offset="1" stop-color="#ababab"/></linearGradient>
<rect x="158.3" y="1337.7" width="549.5" height="57" fill="url(#bg2)" stroke="none" stroke-width="1" />
<g filter="url(#bblur)" clip-path="url(#clipF2)">
<rect x="498" y="1361.3" width="75" height="6" rx="3" fill="#7a7a7a" opacity="0.5"/>
<rect x="604" y="1354.6" width="84" height="14" rx="7" fill="#7a7a7a" opacity="0.45"/>
<rect x="609" y="1357.9" width="74" height="7" rx="3.5" fill="#404040" opacity="0.8"/>
</g>
<clipPath id="clipF2"><rect x="158.3" y="1337.7" width="549.5" height="57"/></clipPath>
<rect x="158.3" y="1337.7" width="549.5" height="57" fill="none" stroke="#111" stroke-width="1.6" />
<linearGradient id="bg3" x1="0" y1="0" x2="1" y2="0"><stop offset="0" stop-color="#cfcfcf"/><stop offset="1" stop-color="#a9a9a9"/></linearGradient>
<rect x="158.3" y="1404.9" width="549.5" height="57.4" fill="url(#bg3)" stroke="none" stroke-width="1" />
<g filter="url(#bblur)" clip-path="url(#clipF3)">
<rect x="289" y="1433.7" width="68" height="5" rx="2.5" fill="#8a8a8a" opacity="0.45"/>
<rect x="505" y="1430.9" width="71" height="6" rx="3" fill="#202020" opacity="0.85"/>
<rect x="568" y="1428.5" width="10" height="9" rx="4.5" fill="#0a0a0a" opacity="0.9"/>
<rect x="505" y="1430.5" width="10" height="7" rx="3.5" fill="#101010" opacity="0.7"/>
<rect x="612" y="1428.4" width="76" height="11" rx="5.5" fill="#050505" opacity="1.0"/>
<rect x="683" y="1417.5" width="7" height="17" rx="8.5" fill="#050505" opacity="0.9"/>
</g>
<ellipse cx="480" cy="1419.6" rx="1.4" ry="1" fill="#2a2a2a" opacity="0.85"/>
<ellipse cx="425" cy="1452" rx="1.5" ry="1.1" fill="#2a2a2a" opacity="0.85"/>
<ellipse cx="473" cy="1455" rx="1.5" ry="1.1" fill="#2a2a2a" opacity="0.85"/>
<clipPath id="clipF3"><rect x="158.3" y="1404.9" width="549.5" height="57.4"/></clipPath>
<rect x="158.3" y="1404.9" width="549.5" height="57.4" fill="none" stroke="#111" stroke-width="1.6" />
<linearGradient id="bg4" x1="0" y1="0" x2="1" y2="0"><stop offset="0" stop-color="#bababa"/><stop offset="1" stop-color="#a6a6a6"/></linearGradient>
<rect x="158.3" y="1473" width="549.5" height="57.4" fill="url(#bg4)" stroke="none" stroke-width="1" />
<g filter="url(#bblur)" clip-path="url(#clipF4)">
<rect x="492" y="1500.5" width="87" height="6" rx="3" fill="#8a8a8a" opacity="0.45"/>
<rect x="600" y="1499" width="97" height="12" rx="6" fill="#7a7a7a" opacity="0.5"/>
<rect x="604" y="1501.9" width="88" height="6" rx="3" fill="#6a6a6a" opacity="0.5"/>
</g>
<ellipse cx="221" cy="1477.7" rx="1.8" ry="1.3" fill="#2a2a2a" opacity="0.85"/>
<ellipse cx="257" cy="1481.7" rx="1.5" ry="1.1" fill="#2a2a2a" opacity="0.85"/>
<ellipse cx="282" cy="1484" rx="1.8" ry="1.3" fill="#2a2a2a" opacity="0.85"/>
<ellipse cx="292" cy="1488" rx="1.8" ry="1.3" fill="#2a2a2a" opacity="0.85"/>
<ellipse cx="367" cy="1495" rx="1.8" ry="1.3" fill="#2a2a2a" opacity="0.85"/>
<ellipse cx="374" cy="1497" rx="1.7" ry="1.2" fill="#2a2a2a" opacity="0.85"/>
<ellipse cx="384" cy="1484" rx="1.7" ry="1.2" fill="#2a2a2a" opacity="0.85"/>
<ellipse cx="393" cy="1477.5" rx="1.8" ry="1.3" fill="#2a2a2a" opacity="0.85"/>
<ellipse cx="422" cy="1477.7" rx="1.7" ry="1.2" fill="#2a2a2a" opacity="0.85"/>
<ellipse cx="421" cy="1496" rx="2" ry="1.4" fill="#2a2a2a" opacity="0.85"/>
<ellipse cx="423" cy="1504.6" rx="2" ry="1.4" fill="#2a2a2a" opacity="0.85"/>
<ellipse cx="384" cy="1508" rx="1.5" ry="1.1" fill="#2a2a2a" opacity="0.85"/>
<ellipse cx="331" cy="1514" rx="1.7" ry="1.2" fill="#2a2a2a" opacity="0.85"/>
<ellipse cx="383" cy="1523" rx="2" ry="1.4" fill="#2a2a2a" opacity="0.85"/>
<ellipse cx="398" cy="1521.5" rx="1.5" ry="1.1" fill="#2a2a2a" opacity="0.85"/>
<ellipse cx="277" cy="1515" rx="1.5" ry="1.1" fill="#2a2a2a" opacity="0.85"/>
<ellipse cx="240" cy="1522" rx="1.5" ry="1.1" fill="#2a2a2a" opacity="0.85"/>
<ellipse cx="505" cy="1503" rx="2" ry="1.4" fill="#2a2a2a" opacity="0.85"/>
<ellipse cx="510" cy="1515" rx="1.8" ry="1.3" fill="#2a2a2a" opacity="0.85"/>
<ellipse cx="616" cy="1480.5" rx="2" ry="1.4" fill="#2a2a2a" opacity="0.85"/>
<ellipse cx="628" cy="1504" rx="1.8" ry="1.3" fill="#2a2a2a" opacity="0.85"/>
<ellipse cx="632" cy="1498" rx="1.5" ry="1.1" fill="#2a2a2a" opacity="0.85"/>
<ellipse cx="660" cy="1488" rx="1.7" ry="1.2" fill="#2a2a2a" opacity="0.85"/>
<ellipse cx="680" cy="1525" rx="1.7" ry="1.2" fill="#2a2a2a" opacity="0.85"/>
<ellipse cx="196" cy="1489" rx="1.4" ry="1" fill="#2a2a2a" opacity="0.85"/>
<clipPath id="clipF4"><rect x="158.3" y="1473" width="549.5" height="57.4"/></clipPath>
<rect x="158.3" y="1473" width="549.5" height="57.4" fill="none" stroke="#111" stroke-width="1.6" />
<linearGradient id="bg5" x1="0" y1="0" x2="1" y2="0"><stop offset="0" stop-color="#a4a4a4"/><stop offset="1" stop-color="#979797"/></linearGradient>
<rect x="158.3" y="1541.1" width="549.5" height="57.4" fill="url(#bg5)" stroke="none" stroke-width="1" />
<g filter="url(#bblur)" clip-path="url(#clipF5)">
<rect x="171.7" y="1571.9" width="78.3" height="8" rx="4" fill="#3a3a3a" opacity="0.85"/>
<rect x="271.7" y="1568.9" width="84" height="7" rx="3.5" fill="#222" opacity="0.95"/>
<rect x="376" y="1567.2" width="85.5" height="7" rx="3.5" fill="#222" opacity="0.95"/>
<rect x="481.8" y="1565" width="89.8" height="7.5" rx="3.8" fill="#1c1c1c" opacity="0.95"/>
<rect x="594.8" y="1563" width="94.2" height="9.5" rx="4.8" fill="#0e0e0e" opacity="1.0"/>
<rect x="610" y="1547.3" width="70" height="8" rx="4" fill="#d8d8d8" opacity="0.35"/>
<rect x="172" y="1591" width="78" height="4" rx="2" fill="#bdbdbd" opacity="0.25"/>
</g>
<clipPath id="clipF5"><rect x="158.3" y="1541.1" width="549.5" height="57.4"/></clipPath>
<rect x="158.3" y="1541.1" width="549.5" height="57.4" fill="none" stroke="#111" stroke-width="1.6" />
<text x="153.5" y="1307.4" font-size="24.5" text-anchor="end" fill="#000" font-family="'Liberation Serif','Times New Roman',serif" >Cleaved IL-1β</text>
<text x="153.5" y="1375.7" font-size="24.5" text-anchor="end" fill="#000" font-family="'Liberation Serif','Times New Roman',serif" >Cleaved Casp-1</text>
<text x="153.5" y="1444.9" font-size="24.8" text-anchor="end" fill="#000" font-family="'Liberation Serif','Times New Roman',serif" >NLRP3</text>
<text x="153.5" y="1514" font-size="25" text-anchor="end" fill="#000" font-family="'Liberation Serif','Times New Roman',serif" >Pro IL-1β</text>
<text x="153.5" y="1585.2" font-size="22.3" text-anchor="end" fill="#000" font-family="'Liberation Serif','Times New Roman',serif" >GAPDH</text>
<text x="179" y="1257.8" font-size="22" text-anchor="start" fill="#000" font-family="'Liberation Serif','Times New Roman',serif" >Vehicle</text>
<text x="289.6" y="1257.8" font-size="22" text-anchor="start" fill="#000" font-family="'Liberation Serif','Times New Roman',serif" >LPS</text>
<text x="390.4" y="1257.8" font-size="22" text-anchor="start" fill="#000" font-family="'Liberation Serif','Times New Roman',serif" >S(2)</text>
<text x="498.2" y="1257.8" font-size="22" text-anchor="start" fill="#000" font-family="'Liberation Serif','Times New Roman',serif" >S(10)</text>
<text x="624.3" y="1257.8" font-size="22" text-anchor="start" fill="#000" font-family="'Liberation Serif','Times New Roman',serif" >S(50)</text>
<text x="711.7" y="1257.8" font-size="22" text-anchor="start" fill="#000" font-family="'Liberation Serif','Times New Roman',serif" >kDa</text>
<text x="544.6" y="1222" font-size="22" text-anchor="middle" fill="#000" font-family="'Liberation Serif','Times New Roman',serif" >LPS</text>
<line x1="393.7" y1="1231" x2="675.1" y2="1231" stroke="#000" stroke-width="1.6" />
<text x="714.2" y="1306.3" font-size="22.5" text-anchor="start" fill="#000" font-family="'Liberation Serif','Times New Roman',serif" >17</text>
<text x="714.2" y="1370.5" font-size="22.5" text-anchor="start" fill="#000" font-family="'Liberation Serif','Times New Roman',serif" >20</text>
<text x="711.3" y="1432.7" font-size="22.5" text-anchor="start" fill="#000" font-family="'Liberation Serif','Times New Roman',serif" >110</text>
<text x="714.2" y="1511.3" font-size="22.5" text-anchor="start" fill="#000" font-family="'Liberation Serif','Times New Roman',serif" >37</text>
<text x="714.2" y="1571.4" font-size="22.5" text-anchor="start" fill="#000" font-family="'Liberation Serif','Times New Roman',serif" >37</text>
<line x1="754.3" y1="1272.9" x2="754.3" y2="1395.2" stroke="#000" stroke-width="1.6" />
<line x1="753.3" y1="1416.2" x2="753.3" y2="1602.3" stroke="#000" stroke-width="1.6" />
<text transform="translate(764.4,1336.8) rotate(90)" font-size="23.2" textLength="125.5" lengthAdjust="spacingAndGlyphs" text-anchor="middle" font-family="'Liberation Serif','Times New Roman',serif">Supernatant</text>
<text transform="translate(764.4,1495.5) rotate(90)" font-size="23.2" textLength="67.6" lengthAdjust="spacingAndGlyphs" text-anchor="middle" font-family="'Liberation Serif','Times New Roman',serif">Lysate</text>
<text x="783.6" y="1140.2" font-size="43" text-anchor="start" fill="#000" font-family="'Liberation Serif','Times New Roman',serif" >G)</text>
<line x1="890.9" y1="1174.6" x2="890.9" y2="1504.2" stroke="#000" stroke-width="1.7" />
<line x1="878.4" y1="1503.4" x2="1187.6" y2="1503.4" stroke="#000" stroke-width="1.7" />
<line x1="878.4" y1="1503.4" x2="890.9" y2="1503.4" stroke="#000" stroke-width="1.6" />
<text x="874.3" y="1511.7" font-size="24.5" text-anchor="end" fill="#000" font-family="'Liberation Serif','Times New Roman',serif" >0</text>
<line x1="878.4" y1="1421.4" x2="890.9" y2="1421.4" stroke="#000" stroke-width="1.6" />
<text x="874.3" y="1429.7" font-size="24.5" text-anchor="end" fill="#000" font-family="'Liberation Serif','Times New Roman',serif" >5</text>
<line x1="878.4" y1="1339.3" x2="890.9" y2="1339.3" stroke="#000" stroke-width="1.6" />
<text x="874.3" y="1347.6" font-size="24.5" text-anchor="end" fill="#000" font-family="'Liberation Serif','Times New Roman',serif" >10</text>
<line x1="878.4" y1="1257.2" x2="890.9" y2="1257.2" stroke="#000" stroke-width="1.6" />
<text x="874.3" y="1265.5" font-size="24.5" text-anchor="end" fill="#000" font-family="'Liberation Serif','Times New Roman',serif" >15</text>
<line x1="878.4" y1="1175.2" x2="890.9" y2="1175.2" stroke="#000" stroke-width="1.6" />
<text x="874.3" y="1183.5" font-size="24.5" text-anchor="end" fill="#000" font-family="'Liberation Serif','Times New Roman',serif" >20</text>
<line x1="928" y1="1503.4" x2="928" y2="1516.9" stroke="#000" stroke-width="1.6" />
<line x1="983" y1="1503.4" x2="983" y2="1516.9" stroke="#000" stroke-width="1.6" />
<line x1="1038.4" y1="1503.4" x2="1038.4" y2="1516.9" stroke="#000" stroke-width="1.6" />
<line x1="1093.4" y1="1503.4" x2="1093.4" y2="1516.9" stroke="#000" stroke-width="1.6" />
<line x1="1148.4" y1="1503.4" x2="1148.4" y2="1516.9" stroke="#000" stroke-width="1.6" />
<rect x="910.1" y="1488.2" width="35.8" height="15.2" fill="#10f010" stroke="#000" stroke-width="1.4"/>
<rect x="965.1" y="1484.8" width="35.8" height="18.6" fill="#93bff5" stroke="#000" stroke-width="1.4"/>
<rect x="1020.5" y="1491.8" width="35.8" height="11.6" fill="#d6d6d6" stroke="#000" stroke-width="1.4"/>
<rect x="1075.5" y="1456.3" width="35.8" height="47.1" fill="#f9a06e" stroke="#000" stroke-width="1.4"/>
<rect x="1130.5" y="1313.3" width="35.8" height="190.1" fill="#f9a1a1" stroke="#000" stroke-width="1.4"/>
<circle cx="914.5" cy="1486.6" r="4.2" fill="#0b7a0b" stroke="#fff" stroke-width="1.3" />
<circle cx="928" cy="1487" r="4.2" fill="#0b7a0b" stroke="#fff" stroke-width="1.3" />
<circle cx="941.4" cy="1486.6" r="4.2" fill="#0b7a0b" stroke="#fff" stroke-width="1.3" />
<line x1="928" y1="1486.9" x2="928" y2="1488.5" stroke="#000" stroke-width="1.6" />
<line x1="918.6" y1="1486.9" x2="937.4" y2="1486.9" stroke="#000" stroke-width="1.6" />
<line x1="918.6" y1="1488.5" x2="937.4" y2="1488.5" stroke="#000" stroke-width="1.6" />
<circle cx="974.6" cy="1492.2" r="4.2" fill="#0000ff" stroke="#fff" stroke-width="1.3" />
<circle cx="983" cy="1470.9" r="4.2" fill="#0000ff" stroke="#fff" stroke-width="1.3" />
<circle cx="991.9" cy="1490" r="4.2" fill="#0000ff" stroke="#fff" stroke-width="1.3" />
<line x1="983" y1="1477.6" x2="983" y2="1490.4" stroke="#000" stroke-width="1.6" />
<line x1="973.6" y1="1477.6" x2="992.4" y2="1477.6" stroke="#000" stroke-width="1.6" />
<line x1="973.6" y1="1490.4" x2="992.4" y2="1490.4" stroke="#000" stroke-width="1.6" />
<circle cx="1024.4" cy="1494.5" r="4.2" fill="#666666" stroke="#fff" stroke-width="1.3" />
<circle cx="1038.4" cy="1486.6" r="4.2" fill="#666666" stroke="#fff" stroke-width="1.3" />
<circle cx="1051.8" cy="1488.9" r="4.2" fill="#666666" stroke="#fff" stroke-width="1.3" />
<line x1="1038.4" y1="1487.8" x2="1038.4" y2="1491.8" stroke="#000" stroke-width="1.6" />
<line x1="1029" y1="1487.8" x2="1047.8" y2="1487.8" stroke="#000" stroke-width="1.6" />
<line x1="1029" y1="1491.8" x2="1047.8" y2="1491.8" stroke="#000" stroke-width="1.6" />
<circle cx="1093.4" cy="1408.7" r="4.2" fill="#ff6a0e" stroke="#fff" stroke-width="1.3" />
<circle cx="1093.4" cy="1472" r="4.2" fill="#ff6a0e" stroke="#fff" stroke-width="1.3" />
<circle cx="1093.4" cy="1486" r="4.2" fill="#ff6a0e" stroke="#fff" stroke-width="1.3" />
<line x1="1093.4" y1="1432.1" x2="1093.4" y2="1479.2" stroke="#000" stroke-width="1.6" />
<line x1="1084" y1="1432.1" x2="1102.8" y2="1432.1" stroke="#000" stroke-width="1.6" />
<line x1="1084" y1="1479.2" x2="1102.8" y2="1479.2" stroke="#000" stroke-width="1.6" />
<circle cx="1148.4" cy="1208.9" r="4.2" fill="#ff0000" stroke="#fff" stroke-width="1.3" />
<circle cx="1148.4" cy="1326.8" r="4.2" fill="#ff0000" stroke="#fff" stroke-width="1.3" />
<circle cx="1148.4" cy="1402" r="4.2" fill="#ff0000" stroke="#fff" stroke-width="1.3" />
<line x1="1148.4" y1="1256.5" x2="1148.4" y2="1368.8" stroke="#000" stroke-width="1.6" />
<line x1="1139" y1="1256.5" x2="1157.8" y2="1256.5" stroke="#000" stroke-width="1.6" />
<line x1="1139" y1="1368.8" x2="1157.8" y2="1368.8" stroke="#000" stroke-width="1.6" />
<text x="912" y="1190.2" font-size="24.5" text-anchor="start" fill="#000" font-family="'Liberation Serif','Times New Roman',serif" >Cleaved IL-1β</text>
<text x="1149.5" y="1204.7" font-size="25" text-anchor="middle" fill="#000" font-family="'Liberation Serif','Times New Roman',serif" letter-spacing="0.3">**</text>
<text transform="translate(830.6,1303) rotate(-90)" font-size="24.5" text-anchor="middle" font-family="'Liberation Serif','Times New Roman',serif">Fold change</text>
<text x="911.5" y="1543.7" font-size="24.5" text-anchor="middle" fill="#000" font-family="'Liberation Serif','Times New Roman',serif" >Vehicle</text>
<text x="981.4" y="1543.7" font-size="24.5" text-anchor="middle" fill="#000" font-family="'Liberation Serif','Times New Roman',serif" >LPS</text>
<text x="1033.7" y="1543.7" font-size="24.5" text-anchor="middle" fill="#000" font-family="'Liberation Serif','Times New Roman',serif" >S(2)</text>
<text x="1094.6" y="1543.7" font-size="24.5" text-anchor="middle" fill="#000" font-family="'Liberation Serif','Times New Roman',serif" >S(10)</text>
<text x="1155.3" y="1543.7" font-size="24.5" text-anchor="middle" fill="#000" font-family="'Liberation Serif','Times New Roman',serif" >S(50)</text>
<text x="820.3" y="1576.1" font-size="24.5" text-anchor="start" fill="#000" font-family="'Liberation Serif','Times New Roman',serif" >LPS</text>
<text x="923" y="1578.1" font-size="24.5" text-anchor="middle" fill="#000" font-family="'Liberation Serif','Times New Roman',serif" >-</text>
<text x="984.6" y="1578.1" font-size="24.5" text-anchor="middle" fill="#000" font-family="'Liberation Serif','Times New Roman',serif" >+</text>
<text x="1040.3" y="1578.1" font-size="24.5" text-anchor="middle" fill="#000" font-family="'Liberation Serif','Times New Roman',serif" >+</text>
<text x="1102.5" y="1578.1" font-size="24.5" text-anchor="middle" fill="#000" font-family="'Liberation Serif','Times New Roman',serif" >+</text>
<text x="1162.2" y="1578.1" font-size="24.5" text-anchor="middle" fill="#000" font-family="'Liberation Serif','Times New Roman',serif" >+</text>
<line x1="1276.1" y1="1175" x2="1276.1" y2="1505.1" stroke="#000" stroke-width="1.7" />
<line x1="1263.6" y1="1504.3" x2="1572.4" y2="1504.3" stroke="#000" stroke-width="1.7" />
<line x1="1263.6" y1="1504.3" x2="1276.1" y2="1504.3" stroke="#000" stroke-width="1.6" />
<text x="1258.2" y="1512.6" font-size="24.5" text-anchor="end" fill="#000" font-family="'Liberation Serif','Times New Roman',serif" >0</text>
<line x1="1263.6" y1="1438.6" x2="1276.1" y2="1438.6" stroke="#000" stroke-width="1.6" />
<text x="1258.2" y="1446.9" font-size="24.5" text-anchor="end" fill="#000" font-family="'Liberation Serif','Times New Roman',serif" >5</text>
<line x1="1263.6" y1="1373" x2="1276.1" y2="1373" stroke="#000" stroke-width="1.6" />
<text x="1258.2" y="1381.3" font-size="24.5" text-anchor="end" fill="#000" font-family="'Liberation Serif','Times New Roman',serif" >10</text>
<line x1="1263.6" y1="1307.3" x2="1276.1" y2="1307.3" stroke="#000" stroke-width="1.6" />
<text x="1258.2" y="1315.6" font-size="24.5" text-anchor="end" fill="#000" font-family="'Liberation Serif','Times New Roman',serif" >15</text>
<line x1="1263.6" y1="1241.7" x2="1276.1" y2="1241.7" stroke="#000" stroke-width="1.6" />
<text x="1258.2" y="1250" font-size="24.5" text-anchor="end" fill="#000" font-family="'Liberation Serif','Times New Roman',serif" >20</text>
<line x1="1263.6" y1="1176" x2="1276.1" y2="1176" stroke="#000" stroke-width="1.6" />
<text x="1258.2" y="1184.3" font-size="24.5" text-anchor="end" fill="#000" font-family="'Liberation Serif','Times New Roman',serif" >25</text>
<line x1="1313.5" y1="1504.3" x2="1313.5" y2="1517.8" stroke="#000" stroke-width="1.6" />
<line x1="1368.7" y1="1504.3" x2="1368.7" y2="1517.8" stroke="#000" stroke-width="1.6" />
<line x1="1423.9" y1="1504.3" x2="1423.9" y2="1517.8" stroke="#000" stroke-width="1.6" />
<line x1="1479.2" y1="1504.3" x2="1479.2" y2="1517.8" stroke="#000" stroke-width="1.6" />
<line x1="1534.5" y1="1504.3" x2="1534.5" y2="1517.8" stroke="#000" stroke-width="1.6" />
<rect x="1295.6" y="1492.3" width="35.8" height="12" fill="#10f010" stroke="#000" stroke-width="1.4"/>
<rect x="1350.8" y="1493.5" width="35.8" height="10.8" fill="#93bff5" stroke="#000" stroke-width="1.4"/>
<rect x="1406" y="1488.4" width="35.8" height="15.9" fill="#d6d6d6" stroke="#000" stroke-width="1.4"/>
<rect x="1461.3" y="1388.9" width="35.8" height="115.4" fill="#f9a06e" stroke="#000" stroke-width="1.4"/>
<rect x="1516.6" y="1320.9" width="35.8" height="183.4" fill="#f9a1a1" stroke="#000" stroke-width="1.4"/>
<circle cx="1299.6" cy="1491.2" r="4.2" fill="#0b7a0b" stroke="#fff" stroke-width="1.3" />
<circle cx="1313.5" cy="1491.2" r="4.2" fill="#0b7a0b" stroke="#fff" stroke-width="1.3" />
<circle cx="1327.4" cy="1491.2" r="4.2" fill="#0b7a0b" stroke="#fff" stroke-width="1.3" />
<line x1="1313.5" y1="1490.3" x2="1313.5" y2="1491.8" stroke="#000" stroke-width="1.6" />
<line x1="1304.1" y1="1490.3" x2="1322.9" y2="1490.3" stroke="#000" stroke-width="1.6" />
<line x1="1304.1" y1="1491.8" x2="1322.9" y2="1491.8" stroke="#000" stroke-width="1.6" />
<circle cx="1354.9" cy="1497.6" r="4.2" fill="#0000ff" stroke="#fff" stroke-width="1.3" />
<circle cx="1368.8" cy="1488" r="4.2" fill="#0000ff" stroke="#fff" stroke-width="1.3" />
<circle cx="1382.9" cy="1491.2" r="4.2" fill="#0000ff" stroke="#fff" stroke-width="1.3" />
<line x1="1368.7" y1="1489.3" x2="1368.7" y2="1494.8" stroke="#000" stroke-width="1.6" />
<line x1="1359.3" y1="1489.3" x2="1378.1" y2="1489.3" stroke="#000" stroke-width="1.6" />
<line x1="1359.3" y1="1494.8" x2="1378.1" y2="1494.8" stroke="#000" stroke-width="1.6" />
<circle cx="1415" cy="1492.1" r="4.2" fill="#666666" stroke="#fff" stroke-width="1.3" />
<circle cx="1423.9" cy="1479.5" r="4.2" fill="#666666" stroke="#fff" stroke-width="1.3" />
<circle cx="1432.6" cy="1491.2" r="4.2" fill="#666666" stroke="#fff" stroke-width="1.3" />
<line x1="1423.9" y1="1483.9" x2="1423.9" y2="1491.6" stroke="#000" stroke-width="1.6" />
<line x1="1414.5" y1="1483.9" x2="1433.3" y2="1483.9" stroke="#000" stroke-width="1.6" />
<line x1="1414.5" y1="1491.6" x2="1433.3" y2="1491.6" stroke="#000" stroke-width="1.6" />
<circle cx="1479.2" cy="1276.3" r="4.2" fill="#ff6a0e" stroke="#fff" stroke-width="1.3" />
<circle cx="1479.2" cy="1429.5" r="4.2" fill="#ff6a0e" stroke="#fff" stroke-width="1.3" />
<circle cx="1479.2" cy="1459.2" r="4.2" fill="#ff6a0e" stroke="#fff" stroke-width="1.3" />
<line x1="1479.2" y1="1331.6" x2="1479.2" y2="1445" stroke="#000" stroke-width="1.6" />
<line x1="1469.8" y1="1331.6" x2="1488.6" y2="1331.6" stroke="#000" stroke-width="1.6" />
<line x1="1469.8" y1="1445" x2="1488.6" y2="1445" stroke="#000" stroke-width="1.6" />
<circle cx="1534.5" cy="1246.7" r="4.2" fill="#ff0000" stroke="#fff" stroke-width="1.3" />
<circle cx="1534.5" cy="1309.9" r="4.2" fill="#ff0000" stroke="#fff" stroke-width="1.3" />
<circle cx="1534.5" cy="1406.6" r="4.2" fill="#ff0000" stroke="#fff" stroke-width="1.3" />
<line x1="1534.5" y1="1274.3" x2="1534.5" y2="1367.1" stroke="#000" stroke-width="1.6" />
<line x1="1525.1" y1="1274.3" x2="1543.9" y2="1274.3" stroke="#000" stroke-width="1.6" />
<line x1="1525.1" y1="1367.1" x2="1543.9" y2="1367.1" stroke="#000" stroke-width="1.6" />
<text x="1293.5" y="1191.4" font-size="24.5" text-anchor="start" fill="#000" font-family="'Liberation Serif','Times New Roman',serif" >Cleaved Casp-1</text>
<text x="1534.5" y="1239.2" font-size="25" text-anchor="middle" fill="#000" font-family="'Liberation Serif','Times New Roman',serif" letter-spacing="0.3">*</text>
<text transform="translate(1216.3,1310.9) rotate(-90)" font-size="24.5" text-anchor="middle" font-family="'Liberation Serif','Times New Roman',serif">Fold change</text>
<text x="1296.7" y="1542.9" font-size="24.5" text-anchor="middle" fill="#000" font-family="'Liberation Serif','Times New Roman',serif" >Vehicle</text>
<text x="1366.4" y="1542.9" font-size="24.5" text-anchor="middle" fill="#000" font-family="'Liberation Serif','Times New Roman',serif" >LPS</text>
<text x="1419.6" y="1542.9" font-size="24.5" text-anchor="middle" fill="#000" font-family="'Liberation Serif','Times New Roman',serif" >S(2)</text>
<text x="1480.6" y="1542.9" font-size="24.5" text-anchor="middle" fill="#000" font-family="'Liberation Serif','Times New Roman',serif" >S(10)</text>
<text x="1541" y="1542.9" font-size="24.5" text-anchor="middle" fill="#000" font-family="'Liberation Serif','Times New Roman',serif" >S(50)</text>
<text x="1206.6" y="1574.5" font-size="24.5" text-anchor="start" fill="#000" font-family="'Liberation Serif','Times New Roman',serif" >LPS</text>
<text x="1308.5" y="1576.5" font-size="24.5" text-anchor="middle" fill="#000" font-family="'Liberation Serif','Times New Roman',serif" >-</text>
<text x="1369.7" y="1576.5" font-size="24.5" text-anchor="middle" fill="#000" font-family="'Liberation Serif','Times New Roman',serif" >+</text>
<text x="1425.8" y="1576.5" font-size="24.5" text-anchor="middle" fill="#000" font-family="'Liberation Serif','Times New Roman',serif" >+</text>
<text x="1488.2" y="1576.5" font-size="24.5" text-anchor="middle" fill="#000" font-family="'Liberation Serif','Times New Roman',serif" >+</text>
<text x="1547.5" y="1576.5" font-size="24.5" text-anchor="middle" fill="#000" font-family="'Liberation Serif','Times New Roman',serif" >+</text>
<line x1="1669.2" y1="1178" x2="1669.2" y2="1508.8" stroke="#000" stroke-width="1.7" />
<line x1="1656.7" y1="1508" x2="1965.5" y2="1508" stroke="#000" stroke-width="1.7" />
<line x1="1656.7" y1="1508" x2="1669.2" y2="1508" stroke="#000" stroke-width="1.6" />
<text x="1652.4" y="1516.3" font-size="24.5" text-anchor="end" fill="#000" font-family="'Liberation Serif','Times New Roman',serif" >0</text>
<line x1="1656.7" y1="1398.2" x2="1669.2" y2="1398.2" stroke="#000" stroke-width="1.6" />
<text x="1652.4" y="1406.5" font-size="24.5" text-anchor="end" fill="#000" font-family="'Liberation Serif','Times New Roman',serif" >100</text>
<line x1="1656.7" y1="1288.4" x2="1669.2" y2="1288.4" stroke="#000" stroke-width="1.6" />
<text x="1652.4" y="1296.7" font-size="24.5" text-anchor="end" fill="#000" font-family="'Liberation Serif','Times New Roman',serif" >200</text>
<line x1="1656.7" y1="1178.6" x2="1669.2" y2="1178.6" stroke="#000" stroke-width="1.6" />
<text x="1652.4" y="1186.9" font-size="24.5" text-anchor="end" fill="#000" font-family="'Liberation Serif','Times New Roman',serif" >300</text>
<line x1="1706.5" y1="1508" x2="1706.5" y2="1521.5" stroke="#000" stroke-width="1.6" />
<line x1="1761.4" y1="1508" x2="1761.4" y2="1521.5" stroke="#000" stroke-width="1.6" />
<line x1="1816.8" y1="1508" x2="1816.8" y2="1521.5" stroke="#000" stroke-width="1.6" />
<line x1="1872.2" y1="1508" x2="1872.2" y2="1521.5" stroke="#000" stroke-width="1.6" />
<line x1="1927.3" y1="1508" x2="1927.3" y2="1521.5" stroke="#000" stroke-width="1.6" />
<rect x="1743.5" y="1496.8" width="35.8" height="11.2" fill="#93bff5" stroke="#000" stroke-width="1.4"/>
<rect x="1798.9" y="1493.7" width="35.8" height="14.3" fill="#d6d6d6" stroke="#000" stroke-width="1.4"/>
<rect x="1854.3" y="1458" width="35.8" height="50" fill="#f9a06e" stroke="#000" stroke-width="1.4"/>
<rect x="1909.4" y="1328.8" width="35.8" height="179.2" fill="#f9a1a1" stroke="#000" stroke-width="1.4"/>
<circle cx="1692.5" cy="1505.8" r="4.2" fill="#0b7a0b" stroke="#fff" stroke-width="1.3" />
<circle cx="1706.5" cy="1505.8" r="4.2" fill="#0b7a0b" stroke="#fff" stroke-width="1.3" />
<circle cx="1720.5" cy="1505.8" r="4.2" fill="#0b7a0b" stroke="#fff" stroke-width="1.3" />
<circle cx="1761.4" cy="1482.9" r="4.2" fill="#0000ff" stroke="#fff" stroke-width="1.3" />
<circle cx="1761.4" cy="1498" r="4.2" fill="#0000ff" stroke="#fff" stroke-width="1.3" />
<circle cx="1761.4" cy="1506.7" r="4.2" fill="#0000ff" stroke="#fff" stroke-width="1.3" />
<line x1="1761.4" y1="1489.1" x2="1761.4" y2="1503.5" stroke="#000" stroke-width="1.6" />
<line x1="1752" y1="1489.1" x2="1770.8" y2="1489.1" stroke="#000" stroke-width="1.6" />
<line x1="1752" y1="1503.5" x2="1770.8" y2="1503.5" stroke="#000" stroke-width="1.6" />
<circle cx="1816.8" cy="1478.8" r="4.2" fill="#666666" stroke="#fff" stroke-width="1.3" />
<circle cx="1816.8" cy="1491.6" r="4.2" fill="#666666" stroke="#fff" stroke-width="1.3" />
<circle cx="1816.8" cy="1506.2" r="4.2" fill="#666666" stroke="#fff" stroke-width="1.3" />
<line x1="1816.8" y1="1484.7" x2="1816.8" y2="1501.2" stroke="#000" stroke-width="1.6" />
<line x1="1807.4" y1="1484.7" x2="1826.2" y2="1484.7" stroke="#000" stroke-width="1.6" />
<line x1="1807.4" y1="1501.2" x2="1826.2" y2="1501.2" stroke="#000" stroke-width="1.6" />
<circle cx="1872.2" cy="1385.7" r="4.2" fill="#ff6a0e" stroke="#fff" stroke-width="1.3" />
<circle cx="1872.2" cy="1486.8" r="4.2" fill="#ff6a0e" stroke="#fff" stroke-width="1.3" />
<circle cx="1872.2" cy="1499.5" r="4.2" fill="#ff6a0e" stroke="#fff" stroke-width="1.3" />
<line x1="1872.2" y1="1421.3" x2="1872.2" y2="1492.8" stroke="#000" stroke-width="1.6" />
<line x1="1862.8" y1="1421.3" x2="1881.6" y2="1421.3" stroke="#000" stroke-width="1.6" />
<line x1="1862.8" y1="1492.8" x2="1881.6" y2="1492.8" stroke="#000" stroke-width="1.6" />
<circle cx="1927.3" cy="1238" r="4.2" fill="#ff0000" stroke="#fff" stroke-width="1.3" />
<circle cx="1927.3" cy="1355.7" r="4.2" fill="#ff0000" stroke="#fff" stroke-width="1.3" />
<circle cx="1927.3" cy="1391.2" r="4.2" fill="#ff0000" stroke="#fff" stroke-width="1.3" />
<line x1="1927.3" y1="1281.4" x2="1927.3" y2="1374.2" stroke="#000" stroke-width="1.6" />
<line x1="1917.9" y1="1281.4" x2="1936.7" y2="1281.4" stroke="#000" stroke-width="1.6" />
<line x1="1917.9" y1="1374.2" x2="1936.7" y2="1374.2" stroke="#000" stroke-width="1.6" />
<text x="1701.6" y="1193.3" font-size="24.5" text-anchor="start" fill="#000" font-family="'Liberation Serif','Times New Roman',serif" >NLRP3</text>
<text x="1925.5" y="1230.5" font-size="25" text-anchor="middle" fill="#000" font-family="'Liberation Serif','Times New Roman',serif" letter-spacing="0.3">**</text>
<text transform="translate(1601.5,1312.9) rotate(-90)" font-size="24.5" text-anchor="middle" font-family="'Liberation Serif','Times New Roman',serif">Fold change</text>
<text x="1691.3" y="1543.5" font-size="24.5" text-anchor="middle" fill="#000" font-family="'Liberation Serif','Times New Roman',serif" >Vehicle</text>
<text x="1761.8" y="1543.5" font-size="24.5" text-anchor="middle" fill="#000" font-family="'Liberation Serif','Times New Roman',serif" >LPS</text>
<text x="1813.5" y="1543.5" font-size="24.5" text-anchor="middle" fill="#000" font-family="'Liberation Serif','Times New Roman',serif" >S(2)</text>
<text x="1874.4" y="1543.5" font-size="24.5" text-anchor="middle" fill="#000" font-family="'Liberation Serif','Times New Roman',serif" >S(10)</text>
<text x="1934.6" y="1543.5" font-size="24.5" text-anchor="middle" fill="#000" font-family="'Liberation Serif','Times New Roman',serif" >S(50)</text>
<text x="1600.8" y="1575" font-size="24.5" text-anchor="start" fill="#000" font-family="'Liberation Serif','Times New Roman',serif" >LPS</text>
<text x="1702.8" y="1577" font-size="24.5" text-anchor="middle" fill="#000" font-family="'Liberation Serif','Times New Roman',serif" >-</text>
<text x="1764.8" y="1577" font-size="24.5" text-anchor="middle" fill="#000" font-family="'Liberation Serif','Times New Roman',serif" >+</text>
<text x="1820.9" y="1577" font-size="24.5" text-anchor="middle" fill="#000" font-family="'Liberation Serif','Times New Roman',serif" >+</text>
<text x="1882.1" y="1577" font-size="24.5" text-anchor="middle" fill="#000" font-family="'Liberation Serif','Times New Roman',serif" >+</text>
<text x="1941.7" y="1577" font-size="24.5" text-anchor="middle" fill="#000" font-family="'Liberation Serif','Times New Roman',serif" >+</text>
</svg>
</body></html>
